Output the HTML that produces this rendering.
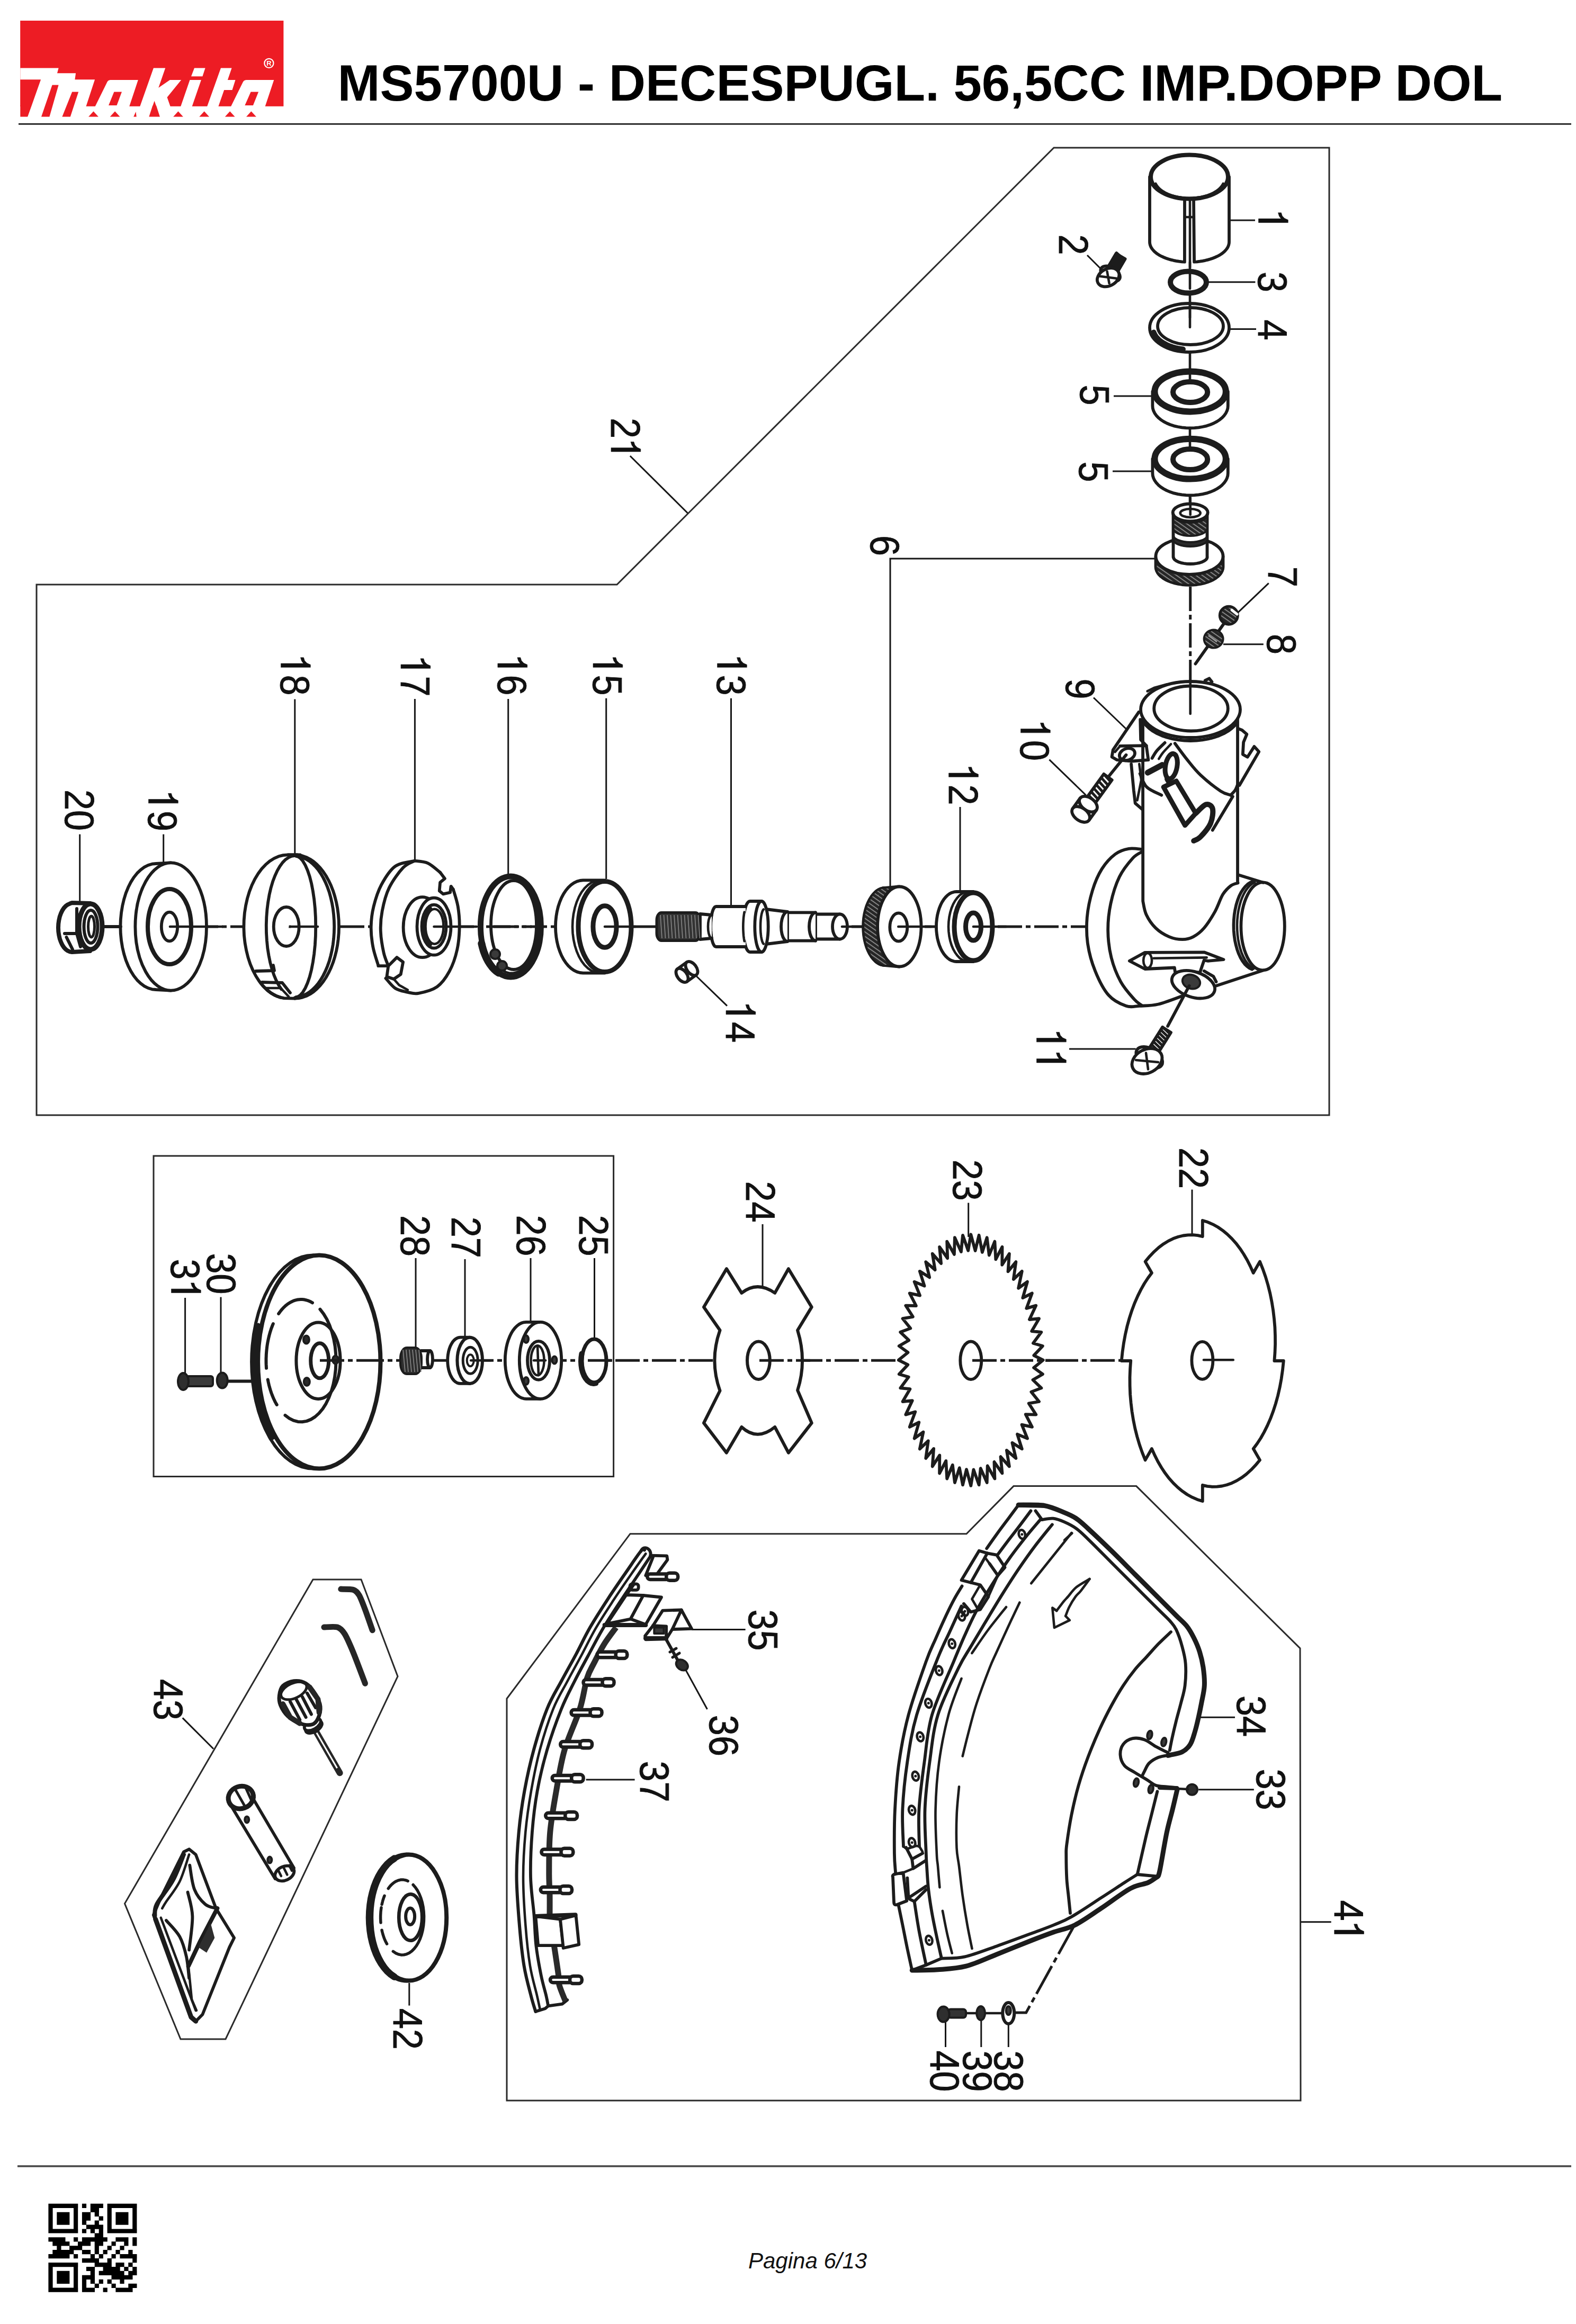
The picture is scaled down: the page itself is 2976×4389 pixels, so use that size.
<!DOCTYPE html>
<html><head><meta charset="utf-8"><title>MS5700U</title>
<style>
html,body{margin:0;padding:0;background:#fff}
body{width:2976px;height:4389px;overflow:hidden;font-family:"Liberation Sans",sans-serif}
svg{display:block}
.p{fill:none;stroke:#1c1c1c;stroke-width:5.8;stroke-linecap:round;stroke-linejoin:round}
.pf{fill:#fff;stroke:#1c1c1c;stroke-width:5.8;stroke-linecap:round;stroke-linejoin:round}
.k{fill:none;stroke:#1c1c1c;stroke-width:8;stroke-linecap:round;stroke-linejoin:round}
.kf{fill:#fff;stroke:#1c1c1c;stroke-width:8;stroke-linecap:round;stroke-linejoin:round}
.m{fill:none;stroke:#1c1c1c;stroke-width:4.6;stroke-linecap:round;stroke-linejoin:round}
.t{fill:none;stroke:#161616;stroke-width:3}
.f{fill:none;stroke:#2a2a2a;stroke-width:3}
.ax{fill:none;stroke:#1c1c1c;stroke-width:5;stroke-dasharray:46 7 9 7}
.d{fill:#1c1c1c;stroke:none}
.h{fill:#3a3a3a;stroke:#1c1c1c;stroke-width:4;stroke-linejoin:round}
.n{font-family:"Liberation Sans",sans-serif;font-size:78px;fill:#111;text-anchor:middle;stroke:#111;stroke-width:0.9px}
</style></head><body>
<svg width="2976" height="4389" viewBox="0 0 2976 4389">
<defs>
<pattern id="hk" width="7" height="7" patternUnits="userSpaceOnUse" patternTransform="rotate(35)"><rect width="7" height="7" fill="#262626"/><rect width="7" height="1.6" fill="#9a9a9a"/></pattern>
<pattern id="hk2" width="6" height="6" patternUnits="userSpaceOnUse"><rect width="6" height="6" fill="#2a2a2a"/><rect width="1.5" height="6" fill="#8a8a8a"/></pattern>
</defs>
<rect x="0" y="0" width="2976" height="4389" fill="#fff"/>
<!-- p_header -->
<rect x="38.2" y="39" width="497.2" height="161.8" fill="#ed1c24"/>
<polygon fill="#ed1c24" points="38.3,199.1 60.4,199.1 52.3,220.5 38.3,220.5"/>
<polygon fill="#fff" points="38.3,128.5 110.6,128.5 108,138.3 143.1,138.3 141.4,150.3 179.1,150.3 156.1,220.5 52.3,220.5 77.1,150.3 38.3,150.3"/>
<polygon fill="#ed1c24" points="98.6,160.5 110.6,160.5 93.4,220.5 78,220.5"/>
<polygon fill="#ed1c24" points="136.2,173.4 148.2,173.4 132.8,220.5 117.4,220.5"/>
<path fill="#fff" d="M208.5 151.1 L260.8 151.1 L237.7 220.5 L170 220.5 L201.4 157.1 Q203.4 151.1 208.5 151.1Z"/>
<polygon fill="#ed1c24" points="215.4,173.4 230,173.4 220.5,199.1 205.1,199.1"/>
<polygon fill="#fff" points="289.9,128.5 312.2,128.5 299.3,165.7 320.8,151.1 342.2,151.1 315.6,183.7 328.5,220.5 301.9,220.5 291.6,190.5 281.4,220.5 257.4,220.5"/>
<polygon fill="#fff" points="367,128.5 387.6,128.5 382.4,144.3 361,144.3"/>
<polygon fill="#fff" points="358.5,151.1 379.9,151.1 355.9,220.5 334.5,220.5"/>
<polygon fill="#fff" points="417,128.5 437.6,128.5 429.9,151.1 444.5,151.1 438.5,170 423.2,170 405.6,220.5 384.2,220.5"/>
<path fill="#fff" d="M465 151.1 L517.3 151.1 L494.1 220.5 L426.5 220.5 L457.8 157.1 Q459.9 151.1 465 151.1Z"/>
<polygon fill="#ed1c24" points="473.6,173.4 488.1,173.4 477.9,199.1 462.4,199.1"/>
<polygon fill="#ed1c24" points="176.5,210.2 167.1,220.5 185.9,220.5"/>
<polygon fill="#ed1c24" points="217.1,210.2 207.7,220.5 226.5,220.5"/>
<polygon fill="#ed1c24" points="336.5,210.2 327.1,220.5 345.9,220.5"/>
<polygon fill="#ed1c24" points="385.7,210.2 376.3,220.5 395.1,220.5"/>
<polygon fill="#ed1c24" points="434.2,210.2 424.8,220.5 443.6,220.5"/>
<polygon fill="#ed1c24" points="474.4,210.2 465,220.5 483.9,220.5"/>
<polygon fill="#ed1c24" points="256.5,211.1 252.2,220.5 257.7,220.5"/>
<polygon fill="#ed1c24" points="288.2,199.6 295.1,199.6 301.9,220.5 281.4,220.5"/>
<circle cx="507.9" cy="119.4" r="8.6" fill="none" stroke="#fff" stroke-width="2.2"/>
<text x="507.9" y="124.2" font-size="13" font-weight="bold" fill="#fff" text-anchor="middle" font-family="Liberation Sans">R</text>
<rect x="35" y="232.8" width="2932" height="2.8" fill="#1a1a1a"/>
<text x="637.5" y="190" font-family="Liberation Sans" font-weight="bold" font-size="96" fill="#000">MS5700U - DECESPUGL. 56,5CC IMP.DOPP DOL</text>
<rect x="33" y="4089.2" width="2934" height="3.6" fill="#4a4a4a"/>
<text x="1413" y="4283.5" font-family="Liberation Sans" font-style="italic" font-size="42" fill="#111">Pagina 6/13</text>
<path fill="#000" d="M91.4 4161.8h55.9v8.2h-55.9zM154.9 4161.8h8.2v8.2h-8.2zM170.8 4161.8h24.1v8.2h-24.1zM202.6 4161.8h55.9v8.2h-55.9zM91.4 4169.7h8.2v8.2h-8.2zM139 4169.7h8.2v8.2h-8.2zM170.8 4169.7h16.2v8.2h-16.2zM202.6 4169.7h8.2v8.2h-8.2zM250.2 4169.7h8.2v8.2h-8.2zM91.4 4177.7h8.2v8.2h-8.2zM107.3 4177.7h24.1v8.2h-24.1zM139 4177.7h8.2v8.2h-8.2zM154.9 4177.7h16.2v8.2h-16.2zM178.7 4177.7h8.2v8.2h-8.2zM202.6 4177.7h8.2v8.2h-8.2zM218.4 4177.7h24.1v8.2h-24.1zM250.2 4177.7h8.2v8.2h-8.2zM91.4 4185.6h8.2v8.2h-8.2zM107.3 4185.6h24.1v8.2h-24.1zM139 4185.6h8.2v8.2h-8.2zM154.9 4185.6h16.2v8.2h-16.2zM186.7 4185.6h8.2v8.2h-8.2zM202.6 4185.6h8.2v8.2h-8.2zM218.4 4185.6h24.1v8.2h-24.1zM250.2 4185.6h8.2v8.2h-8.2zM91.4 4193.6h8.2v8.2h-8.2zM107.3 4193.6h24.1v8.2h-24.1zM139 4193.6h8.2v8.2h-8.2zM154.9 4193.6h8.2v8.2h-8.2zM178.7 4193.6h8.2v8.2h-8.2zM202.6 4193.6h8.2v8.2h-8.2zM218.4 4193.6h24.1v8.2h-24.1zM250.2 4193.6h8.2v8.2h-8.2zM91.4 4201.5h8.2v8.2h-8.2zM139 4201.5h8.2v8.2h-8.2zM162.9 4201.5h32.1v8.2h-32.1zM202.6 4201.5h8.2v8.2h-8.2zM250.2 4201.5h8.2v8.2h-8.2zM91.4 4209.4h55.9v8.2h-55.9zM154.9 4209.4h8.2v8.2h-8.2zM170.8 4209.4h8.2v8.2h-8.2zM186.7 4209.4h8.2v8.2h-8.2zM202.6 4209.4h55.9v8.2h-55.9zM178.7 4217.4h16.2v8.2h-16.2zM91.4 4225.3h32.1v8.2h-32.1zM139 4225.3h8.2v8.2h-8.2zM154.9 4225.3h47.9v8.2h-47.9zM218.4 4225.3h24.1v8.2h-24.1zM250.2 4225.3h8.2v8.2h-8.2zM99.3 4233.3h32.1v8.2h-32.1zM147 4233.3h24.1v8.2h-24.1zM178.7 4233.3h16.2v8.2h-16.2zM210.5 4233.3h8.2v8.2h-8.2zM234.3 4233.3h8.2v8.2h-8.2zM250.2 4233.3h8.2v8.2h-8.2zM107.3 4241.2h8.2v8.2h-8.2zM131.1 4241.2h24.1v8.2h-24.1zM178.7 4241.2h8.2v8.2h-8.2zM202.6 4241.2h8.2v8.2h-8.2zM226.4 4241.2h8.2v8.2h-8.2zM99.3 4249.1h40v8.2h-40zM154.9 4249.1h16.2v8.2h-16.2zM178.7 4249.1h8.2v8.2h-8.2zM194.6 4249.1h8.2v8.2h-8.2zM218.4 4249.1h8.2v8.2h-8.2zM242.3 4249.1h8.2v8.2h-8.2zM91.4 4257.1h40v8.2h-40zM139 4257.1h8.2v8.2h-8.2zM170.8 4257.1h8.2v8.2h-8.2zM186.7 4257.1h8.2v8.2h-8.2zM210.5 4257.1h8.2v8.2h-8.2zM226.4 4257.1h32.1v8.2h-32.1zM154.9 4265h32.1v8.2h-32.1zM202.6 4265h8.2v8.2h-8.2zM250.2 4265h8.2v8.2h-8.2zM91.4 4273h55.9v8.2h-55.9zM178.7 4273h32.1v8.2h-32.1zM218.4 4273h16.2v8.2h-16.2zM242.3 4273h8.2v8.2h-8.2zM91.4 4280.9h8.2v8.2h-8.2zM139 4280.9h8.2v8.2h-8.2zM162.9 4280.9h16.2v8.2h-16.2zM194.6 4280.9h32.1v8.2h-32.1zM234.3 4280.9h8.2v8.2h-8.2zM250.2 4280.9h8.2v8.2h-8.2zM91.4 4288.8h8.2v8.2h-8.2zM107.3 4288.8h24.1v8.2h-24.1zM139 4288.8h8.2v8.2h-8.2zM170.8 4288.8h8.2v8.2h-8.2zM186.7 4288.8h47.9v8.2h-47.9zM242.3 4288.8h16.2v8.2h-16.2zM91.4 4296.8h8.2v8.2h-8.2zM107.3 4296.8h24.1v8.2h-24.1zM139 4296.8h8.2v8.2h-8.2zM154.9 4296.8h24.1v8.2h-24.1zM210.5 4296.8h40v8.2h-40zM91.4 4304.7h8.2v8.2h-8.2zM107.3 4304.7h24.1v8.2h-24.1zM139 4304.7h8.2v8.2h-8.2zM154.9 4304.7h8.2v8.2h-8.2zM170.8 4304.7h8.2v8.2h-8.2zM186.7 4304.7h8.2v8.2h-8.2zM202.6 4304.7h8.2v8.2h-8.2zM226.4 4304.7h8.2v8.2h-8.2zM91.4 4312.7h8.2v8.2h-8.2zM139 4312.7h8.2v8.2h-8.2zM154.9 4312.7h8.2v8.2h-8.2zM178.7 4312.7h8.2v8.2h-8.2zM210.5 4312.7h8.2v8.2h-8.2zM242.3 4312.7h16.2v8.2h-16.2zM91.4 4320.6h55.9v8.2h-55.9zM154.9 4320.6h24.1v8.2h-24.1zM194.6 4320.6h8.2v8.2h-8.2zM218.4 4320.6h32.1v8.2h-32.1z"/>
<!-- p_frames -->
<path class="f" d="M69 1104L1165 1104L1990 279L2510 279L2510 2106L69 2106Z"/>
<path class="f" d="M290 2183L1158.6 2183L1158.6 2788.5L290 2788.5Z"/>
<path class="f" d="M957 3208L1190 2896.7L1825 2896.7L1914 2806.6L2145.7 2806.6L2455 3113L2456 3967L957 3967Z"/>
<path class="f" d="M591 2983L682 2983L751 3166L426 3851L341 3851L235.5 3595Z"/>
<!-- p_labels -->
<g transform="translate(2403.5 415) rotate(90) scale(0.9 1)"><polygon points="6,27 6,-28.8 0.4,-28.8 -3,-22.1 -8,-17.8 -14.7,-15.9 -14.7,-10 -7.6,-12 -2.2,-15.5 -2.2,27" fill="#111" stroke="#111" stroke-width="0.6"/></g>
<g transform="translate(2403.5 532.5) rotate(90) scale(0.9 1)"><text class="n" style="text-anchor:start" x="-21.7" y="27">3</text></g>
<g transform="translate(2403.5 623) rotate(90) scale(0.9 1)"><text class="n" style="text-anchor:start" x="-21.7" y="27">4</text></g>
<g transform="translate(2027 462) rotate(90) scale(0.9 1)"><text class="n" style="text-anchor:start" x="-21.7" y="27">2</text></g>
<g transform="translate(2067.5 746) rotate(90) scale(0.9 1)"><text class="n" style="text-anchor:start" x="-21.7" y="27">5</text></g>
<g transform="translate(2065.5 891) rotate(90) scale(0.9 1)"><text class="n" style="text-anchor:start" x="-21.7" y="27">5</text></g>
<g transform="translate(1671.5 1030.5) rotate(90) scale(0.9 1)"><text class="n" style="text-anchor:start" x="-21.7" y="27">6</text></g>
<g transform="translate(2422.3 1089.4) rotate(90) scale(0.9 1)"><text class="n" style="text-anchor:start" x="-21.7" y="27">7</text></g>
<g transform="translate(2420.5 1216.5) rotate(90) scale(0.9 1)"><text class="n" style="text-anchor:start" x="-21.7" y="27">8</text></g>
<g transform="translate(2040.5 1301) rotate(90) scale(0.9 1)"><text class="n" style="text-anchor:start" x="-21.7" y="27">9</text></g>
<g transform="translate(1954.5 1398) rotate(90) scale(0.9 1)"><polygon points="-15.7,27 -15.7,-28.8 -21.3,-28.8 -24.6,-22.1 -29.7,-17.8 -36.3,-15.9 -36.3,-10 -29.3,-12 -23.9,-15.5 -23.9,27" fill="#111" stroke="#111" stroke-width="0.6"/><text class="n" style="text-anchor:start" x="0" y="27">0</text></g>
<g transform="translate(1984.5 1982) rotate(90) scale(0.9 1)"><polygon points="-15.7,27 -15.7,-28.8 -21.3,-28.8 -24.6,-22.1 -29.7,-17.8 -36.3,-15.9 -36.3,-10 -29.3,-12 -23.9,-15.5 -23.9,27" fill="#111" stroke="#111" stroke-width="0.6"/><polygon points="27.7,27 27.7,-28.8 22.1,-28.8 18.7,-22.1 13.6,-17.8 7,-15.9 7,-10 14,-12 19.5,-15.5 19.5,27" fill="#111" stroke="#111" stroke-width="0.6"/></g>
<g transform="translate(1818.6 1481.5) rotate(90) scale(0.9 1)"><polygon points="-15.7,27 -15.7,-28.8 -21.3,-28.8 -24.6,-22.1 -29.7,-17.8 -36.3,-15.9 -36.3,-10 -29.3,-12 -23.9,-15.5 -23.9,27" fill="#111" stroke="#111" stroke-width="0.6"/><text class="n" style="text-anchor:start" x="0" y="27">2</text></g>
<g transform="translate(1381.5 1274.5) rotate(90) scale(0.9 1)"><polygon points="-15.7,27 -15.7,-28.8 -21.3,-28.8 -24.6,-22.1 -29.7,-17.8 -36.3,-15.9 -36.3,-10 -29.3,-12 -23.9,-15.5 -23.9,27" fill="#111" stroke="#111" stroke-width="0.6"/><text class="n" style="text-anchor:start" x="0" y="27">3</text></g>
<g transform="translate(1398 1930) rotate(90) scale(0.9 1)"><polygon points="-15.7,27 -15.7,-28.8 -21.3,-28.8 -24.6,-22.1 -29.7,-17.8 -36.3,-15.9 -36.3,-10 -29.3,-12 -23.9,-15.5 -23.9,27" fill="#111" stroke="#111" stroke-width="0.6"/><text class="n" style="text-anchor:start" x="0" y="27">4</text></g>
<g transform="translate(1147 1274.5) rotate(90) scale(0.9 1)"><polygon points="-15.7,27 -15.7,-28.8 -21.3,-28.8 -24.6,-22.1 -29.7,-17.8 -36.3,-15.9 -36.3,-10 -29.3,-12 -23.9,-15.5 -23.9,27" fill="#111" stroke="#111" stroke-width="0.6"/><text class="n" style="text-anchor:start" x="0" y="27">5</text></g>
<g transform="translate(966.9 1274.5) rotate(90) scale(0.9 1)"><polygon points="-15.7,27 -15.7,-28.8 -21.3,-28.8 -24.6,-22.1 -29.7,-17.8 -36.3,-15.9 -36.3,-10 -29.3,-12 -23.9,-15.5 -23.9,27" fill="#111" stroke="#111" stroke-width="0.6"/><text class="n" style="text-anchor:start" x="0" y="27">6</text></g>
<g transform="translate(784 1276.5) rotate(90) scale(0.9 1)"><polygon points="-15.7,27 -15.7,-28.8 -21.3,-28.8 -24.6,-22.1 -29.7,-17.8 -36.3,-15.9 -36.3,-10 -29.3,-12 -23.9,-15.5 -23.9,27" fill="#111" stroke="#111" stroke-width="0.6"/><text class="n" style="text-anchor:start" x="0" y="27">7</text></g>
<g transform="translate(557.5 1274.5) rotate(90) scale(0.9 1)"><polygon points="-15.7,27 -15.7,-28.8 -21.3,-28.8 -24.6,-22.1 -29.7,-17.8 -36.3,-15.9 -36.3,-10 -29.3,-12 -23.9,-15.5 -23.9,27" fill="#111" stroke="#111" stroke-width="0.6"/><text class="n" style="text-anchor:start" x="0" y="27">8</text></g>
<g transform="translate(307.5 1531) rotate(90) scale(0.9 1)"><polygon points="-15.7,27 -15.7,-28.8 -21.3,-28.8 -24.6,-22.1 -29.7,-17.8 -36.3,-15.9 -36.3,-10 -29.3,-12 -23.9,-15.5 -23.9,27" fill="#111" stroke="#111" stroke-width="0.6"/><text class="n" style="text-anchor:start" x="0" y="27">9</text></g>
<g transform="translate(150.5 1530.1) rotate(90) scale(0.9 1)"><text class="n" style="text-anchor:start" x="-43.4" y="27">2</text><text class="n" style="text-anchor:start" x="0" y="27">0</text></g>
<g transform="translate(1181 828.1) rotate(90) scale(0.9 1)"><text class="n" style="text-anchor:start" x="-43.4" y="27">2</text><polygon points="27.7,27 27.7,-28.8 22.1,-28.8 18.7,-22.1 13.6,-17.8 7,-15.9 7,-10 14,-12 19.5,-15.5 19.5,27" fill="#111" stroke="#111" stroke-width="0.6"/></g>
<g transform="translate(2254.5 2206) rotate(90) scale(0.9 1)"><text class="n" style="text-anchor:start" x="-43.4" y="27">2</text><text class="n" style="text-anchor:start" x="0" y="27">2</text></g>
<g transform="translate(1827.4 2228.7) rotate(90) scale(0.9 1)"><text class="n" style="text-anchor:start" x="-43.4" y="27">2</text><text class="n" style="text-anchor:start" x="0" y="27">3</text></g>
<g transform="translate(1436 2269.5) rotate(90) scale(0.9 1)"><text class="n" style="text-anchor:start" x="-43.4" y="27">2</text><text class="n" style="text-anchor:start" x="0" y="27">4</text></g>
<g transform="translate(1121 2333.5) rotate(90) scale(0.9 1)"><text class="n" style="text-anchor:start" x="-43.4" y="27">2</text><text class="n" style="text-anchor:start" x="0" y="27">5</text></g>
<g transform="translate(1003.5 2333.5) rotate(90) scale(0.9 1)"><text class="n" style="text-anchor:start" x="-43.4" y="27">2</text><text class="n" style="text-anchor:start" x="0" y="27">6</text></g>
<g transform="translate(879.9 2336.7) rotate(90) scale(0.9 1)"><text class="n" style="text-anchor:start" x="-43.4" y="27">2</text><text class="n" style="text-anchor:start" x="0" y="27">7</text></g>
<g transform="translate(783.6 2334) rotate(90) scale(0.9 1)"><text class="n" style="text-anchor:start" x="-43.4" y="27">2</text><text class="n" style="text-anchor:start" x="0" y="27">8</text></g>
<g transform="translate(418.5 2405.5) rotate(90) scale(0.9 1)"><text class="n" style="text-anchor:start" x="-43.4" y="27">3</text><text class="n" style="text-anchor:start" x="0" y="27">0</text></g>
<g transform="translate(350.5 2416.6) rotate(90) scale(0.9 1)"><text class="n" style="text-anchor:start" x="-43.4" y="27">3</text><polygon points="27.7,27 27.7,-28.8 22.1,-28.8 18.7,-22.1 13.6,-17.8 7,-15.9 7,-10 14,-12 19.5,-15.5 19.5,27" fill="#111" stroke="#111" stroke-width="0.6"/></g>
<g transform="translate(2400.3 3379.5) rotate(90) scale(0.9 1)"><text class="n" style="text-anchor:start" x="-43.4" y="27">3</text><text class="n" style="text-anchor:start" x="0" y="27">3</text></g>
<g transform="translate(2362.9 3241) rotate(90) scale(0.9 1)"><text class="n" style="text-anchor:start" x="-43.4" y="27">3</text><text class="n" style="text-anchor:start" x="0" y="27">4</text></g>
<g transform="translate(1441.1 3078.5) rotate(90) scale(0.9 1)"><text class="n" style="text-anchor:start" x="-43.4" y="27">3</text><text class="n" style="text-anchor:start" x="0" y="27">5</text></g>
<g transform="translate(1367.5 3277.9) rotate(90) scale(0.9 1)"><text class="n" style="text-anchor:start" x="-43.4" y="27">3</text><text class="n" style="text-anchor:start" x="0" y="27">6</text></g>
<g transform="translate(1236.5 3364.5) rotate(90) scale(0.9 1)"><text class="n" style="text-anchor:start" x="-43.4" y="27">3</text><text class="n" style="text-anchor:start" x="0" y="27">7</text></g>
<g transform="translate(1905 3911.5) rotate(90) scale(0.9 1)"><text class="n" style="text-anchor:start" x="-43.4" y="27">3</text><text class="n" style="text-anchor:start" x="0" y="27">8</text></g>
<g transform="translate(1846.5 3911.5) rotate(90) scale(0.9 1)"><text class="n" style="text-anchor:start" x="-43.4" y="27">3</text><text class="n" style="text-anchor:start" x="0" y="27">9</text></g>
<g transform="translate(1784.5 3911.5) rotate(90) scale(0.9 1)"><text class="n" style="text-anchor:start" x="-43.4" y="27">4</text><text class="n" style="text-anchor:start" x="0" y="27">0</text></g>
<g transform="translate(2546.7 3627.5) rotate(90) scale(0.9 1)"><text class="n" style="text-anchor:start" x="-43.4" y="27">4</text><polygon points="27.7,27 27.7,-28.8 22.1,-28.8 18.7,-22.1 13.6,-17.8 7,-15.9 7,-10 14,-12 19.5,-15.5 19.5,27" fill="#111" stroke="#111" stroke-width="0.6"/></g>
<g transform="translate(770.1 3831.7) rotate(90) scale(0.9 1)"><text class="n" style="text-anchor:start" x="-43.4" y="27">4</text><text class="n" style="text-anchor:start" x="0" y="27">2</text></g>
<g transform="translate(318.3 3210) rotate(90) scale(0.9 1)"><text class="n" style="text-anchor:start" x="-43.4" y="27">4</text><text class="n" style="text-anchor:start" x="0" y="27">3</text></g>
<path class="t" d="M2321 416L2370 416"/>
<path class="t" d="M2281.6 532.7L2370.4 532.7"/>
<path class="t" d="M2323 621.5L2372 621.5"/>
<path class="t" d="M2053 482L2078 507"/>
<path class="t" d="M2103 747.9L2176 747.9"/>
<path class="t" d="M2101 890L2176 890"/>
<path class="t" d="M2337.3 1157.2L2395.7 1101.3"/>
<path class="t" d="M2310 1216.7L2385.8 1216.7"/>
<path class="t" d="M2065 1317.5L2128 1378"/>
<path class="t" d="M1981.4 1434.7L2050.5 1501.7"/>
<path class="t" d="M2019 1981L2144.7 1981"/>
<path class="t" d="M1813 1524L1813 1684"/>
<path class="t" d="M1380.5 1318.7L1380.5 1711"/>
<path class="t" d="M1308.8 1837.5L1373 1899.7"/>
<path class="t" d="M1144.7 1318.7L1144.7 1660"/>
<path class="t" d="M959.7 1320L959.7 1653.7"/>
<path class="t" d="M783.4 1320L783.4 1625"/>
<path class="t" d="M556.8 1320.5L556.8 1613.7"/>
<path class="t" d="M308.7 1575.6L308.7 1631.5"/>
<path class="t" d="M150.7 1575.6L150.7 1702"/>
<path class="t" d="M1189.8 861L1298.5 969"/>
<path class="t" d="M2251 2246.6L2251 2331"/>
<path class="t" d="M1828.7 2271.6L1828.7 2336"/>
<path class="t" d="M1440 2312L1440 2430"/>
<path class="t" d="M1122.5 2376L1122.5 2530"/>
<path class="t" d="M1002 2376L1002 2498.5"/>
<path class="t" d="M878 2378L878 2527"/>
<path class="t" d="M785 2376L785 2551"/>
<path class="t" d="M417 2449.6L417 2597"/>
<path class="t" d="M349.6 2451L349.6 2597"/>
<path class="t" d="M2263.2 3379.8L2367.8 3379.8"/>
<path class="t" d="M2265.4 3243.3L2332 3243.3"/>
<path class="t" d="M1306 3077.4L1407.6 3077.4"/>
<path class="t" d="M1294.7 3153.5L1335.5 3228"/>
<path class="t" d="M1106.6 3361L1198.6 3361"/>
<path class="t" d="M1904.3 3822L1904.3 3866"/>
<path class="t" d="M1852.8 3816L1852.8 3866"/>
<path class="t" d="M1785.5 3819L1785.5 3866"/>
<path class="t" d="M2456.6 3629.7L2513.7 3629.7"/>
<path class="t" d="M772.8 3745L772.8 3787.6"/>
<path class="t" d="M344.7 3244.4L403 3302.8"/>
<path class="t" d="M1681 1675L1681 1055L2182.7 1055"/>
<!-- p_top -->
<path class="p" d="M2171 334L2171 457L2171 457L2171.2 459.7L2171.8 462.5L2172.8 465.2L2174.1 467.9L2175.9 470.5L2178 473L2180.4 475.5L2183.2 477.8L2186.4 480.1L2189.8 482.2L2193.6 484.2L2197.6 486L2201.9 487.7L2206.4 489.3L2211.1 490.6L2216 491.8L2221 492.8L2226.2 493.7L2231.5 494.3L2236.9 494.7L2237 378"/>
<path class="p" d="M2321 334L2321 457L2321 457L2320.8 459.7L2320.2 462.5L2319.2 465.2L2317.9 467.9L2316.1 470.5L2314 473L2311.6 475.5L2308.8 477.8L2305.6 480.1L2302.2 482.2L2298.4 484.2L2294.4 486L2290.1 487.7L2285.6 489.3L2280.9 490.6L2276 491.8L2271 492.8L2265.8 493.7L2260.5 494.3L2255.1 494.7L2254 378"/>
<ellipse class="k" cx="2246" cy="334" rx="73" ry="41.5"/>
<path class="m" d="M2309.8 346.6L2307.5 350.4L2304.5 354.1L2300.9 357.6L2296.6 360.8L2291.6 363.7L2286.2 366.4L2280.2 368.6L2273.9 370.5L2267.2 372L2260.3 373.1L2253.2 373.8L2246 374L2238.8 373.8L2231.7 373.1L2224.8 372L2218.1 370.5L2211.8 368.6L2205.8 366.4L2200.4 363.7L2195.4 360.8L2191.1 357.6L2187.5 354.1L2184.5 350.4L2182.2 346.6"/>
<path class="m" d="M2237 410L2254 410"/>
<path class="m" d="M2247 376L2247 505"/>
<path class="m" d="M2247 495L2247 512"/>
<ellipse class="p" cx="2244" cy="533" rx="34" ry="20.5" style="stroke-width:10"/>
<path class="m" d="M2247 512L2247 545"/>
<path class="m" d="M2247 556L2247 600"/>
<ellipse class="p" cx="2246" cy="619" rx="75" ry="46"/>
<ellipse class="p" cx="2248" cy="616" rx="62" ry="35"/>
<path class="p" d="M2234 659.4L2229 658.7L2224.1 657.9L2219.3 656.8L2214.7 655.5L2210.2 654.1L2205.9 652.4L2201.9 650.5L2198.1 648.5L2194.5 646.3L2191.3 644L2188.3 641.5L2185.7 638.9L2183.3 636.2L2181.4 633.4L2179.8 630.5L2178.5 627.5" style="stroke-width:10"/>
<path class="m" d="M2247 575L2247 618"/>
<path class="m" d="M2247 664L2247 720"/>
<path class="pf" d="M2176.4 739.5L2176.4 766.5L2176.8 771.2L2178.2 775.8L2180.4 780.3L2183.5 784.7L2187.3 788.8L2191.9 792.6L2197.3 796.1L2203.2 799.3L2209.7 802L2216.7 804.3L2224.1 806L2231.8 807.3L2239.6 808.1L2247.6 808.4L2255.6 808.1L2263.4 807.3L2271.1 806L2278.5 804.3L2285.5 802L2292 799.3L2297.9 796.1L2303.3 792.6L2307.9 788.8L2311.7 784.7L2314.8 780.3L2317 775.8L2318.4 771.2L2318.8 766.5L2318.8 739.5"/>
<ellipse class="pf" cx="2247.6" cy="739.5" rx="67.2" ry="37.9" style="stroke-width:12"/>
<ellipse class="p" cx="2247.6" cy="740.5" rx="32.6" ry="19.5" style="stroke-width:10"/>
<path class="m" d="M2247 700L2247 719"/>
<path class="m" d="M2247 808L2247 868"/>
<path class="pf" d="M2176.4 866.6L2176.4 893.6L2176.8 898.3L2178.2 902.9L2180.4 907.4L2183.5 911.8L2187.3 915.9L2191.9 919.7L2197.3 923.2L2203.2 926.4L2209.7 929.1L2216.7 931.4L2224.1 933.1L2231.8 934.4L2239.6 935.2L2247.6 935.5L2255.6 935.2L2263.4 934.4L2271.1 933.1L2278.5 931.4L2285.5 929.1L2292 926.4L2297.9 923.2L2303.3 919.7L2307.9 915.9L2311.7 911.8L2314.8 907.4L2317 902.9L2318.4 898.3L2318.8 893.6L2318.8 866.6"/>
<ellipse class="pf" cx="2247.6" cy="866.6" rx="67.2" ry="37.9" style="stroke-width:12"/>
<ellipse class="p" cx="2247.6" cy="867.6" rx="32.6" ry="19.5" style="stroke-width:10"/>
<path class="m" d="M2247 828L2247 846"/>
<path class="m" d="M2247 936L2247 970"/>
<path class="pf" d="M2182.5 1050.6L2182.5 1070.6L2182.9 1074.4L2184.1 1078.2L2186.1 1081.9L2188.8 1085.5L2192.2 1088.8L2196.4 1092L2201.1 1094.9L2206.4 1097.4L2212.2 1099.6L2218.4 1101.5L2225 1103L2231.9 1104L2238.9 1104.7L2246 1104.9L2253.1 1104.7L2260.1 1104L2267 1103L2273.6 1101.5L2279.8 1099.6L2285.6 1097.4L2290.9 1094.9L2295.6 1092L2299.8 1088.8L2303.2 1085.5L2305.9 1081.9L2307.9 1078.2L2309.1 1074.4L2309.5 1070.6L2309.5 1050.6"/>
<path d="M2182.5 1050.6A63.5 34.3 0 0 0 2309.5 1050.6L2309.5 1070.6A63.5 34.3 0 0 1 2182.5 1070.6Z" fill="url(#hk)" stroke="#1c1c1c" stroke-width="4" stroke-linejoin="round"/>
<ellipse class="pf" cx="2246" cy="1050.6" rx="63.5" ry="34.3"/>
<path class="pf" d="M2215.5 968L2215.5 1052L2215.7 1052L2216.3 1054.5L2218.1 1057L2221.1 1059.2L2225.1 1061.2L2229.9 1062.8L2235.5 1064L2241.5 1064.8L2247.7 1065L2253.9 1064.8L2259.9 1064L2265.5 1062.8L2270.3 1061.2L2274.3 1059.2L2277.3 1057L2279.1 1054.5L2279.7 1052L2279.5 1052L2279.5 968"/>
<path d="M2215.7 1011A32 13 0 0 0 2279.7 1011L2279.7 1019A32 13 0 0 1 2215.7 1019Z" fill="#2a2a2a" stroke="#1c1c1c" stroke-width="4" stroke-linejoin="round"/>
<path d="M2215.7 973A32 14 0 0 0 2279.7 973L2279.7 998A32 14 0 0 1 2215.7 998Z" fill="url(#hk)" stroke="#1c1c1c" stroke-width="4" stroke-linejoin="round"/>
<ellipse class="pf" cx="2247.7" cy="968" rx="33" ry="16.5"/>
<ellipse class="m" cx="2247.7" cy="969" rx="19" ry="8"/>
<path class="m" d="M2247.7 940L2247.7 972"/>
<path class="ax" d="M2247.7 1108V1350"/>
<path class="p" d="M2318 1168L2257.4 1253.6"/>
<circle cx="2320.3" cy="1162.2" r="17" fill="url(#hk)" stroke="#1c1c1c" stroke-width="5"/>
<path d="M2326 1152l10 8" stroke="#fff" stroke-width="5" fill="none" stroke-linecap="round"/>
<ellipse cx="2291.6" cy="1206.6" rx="18" ry="17" fill="url(#hk)" stroke="#1c1c1c" stroke-width="4"/>
<path d="M2282 1200l16 12" stroke="#999" stroke-width="3" fill="none"/>
<path class="pf" d="M2107.1 518.9L2124.6 489.1L2107.4 478.9L2089.8 508.8Z"/>
<path class="m" d="M2108.2 517.1L2093 503.5M2110.4 513.3L2095.1 499.7M2112.6 509.6L2097.3 496M2114.7 505.9L2099.5 492.3M2116.9 502.1L2101.7 488.5M2119.1 498.4L2103.9 484.8M2121.3 494.7L2106.1 481.1M2123.5 490.9L2108.3 477.3" style="stroke-width:5"/>
<ellipse class="pf" cx="2096.7" cy="516.9" rx="12.1" ry="20" transform="rotate(-59.5 2096.7 516.9)"/>
<ellipse class="pf" cx="2092.6" cy="523.8" rx="22" ry="16" transform="rotate(-29.5 2092.6 523.8)"/>
<path class="m" d="M2077.2 521.8L2108 525.8"/>
<path class="m" d="M2090.6 512.6L2094.6 535"/>
<path class="p" d="M2158.2 1604.1C2153.7 1603.9 2140.2 1601.4 2131.5 1602.8C2122.9 1604.3 2114.6 1606.6 2106.1 1613C2097.7 1619.3 2088 1629.5 2080.8 1640.9C2073.6 1652.3 2067.6 1666.3 2063 1681.5C2058.3 1696.8 2054.3 1715.4 2052.8 1732.3C2051.4 1749.2 2051.6 1766.1 2054.1 1783C2056.6 1800 2061.5 1817.7 2068.1 1833.8C2074.6 1849.9 2083.7 1868.5 2093.5 1879.5C2103.2 1890.5 2116.7 1896.4 2126.4 1899.8C2136.2 1903.2 2141.7 1900.3 2151.8 1899.8C2162 1899.2 2173.8 1899.7 2187.4 1896.5C2200.9 1893.3 2225.4 1883.4 2233 1880.8"/>
<path class="p" d="M2156.9 1608.4C2153.9 1610.5 2146.3 1612.7 2139.1 1620.6C2131.9 1628.6 2120.7 1641.8 2113.8 1656.1C2106.8 1670.5 2100.9 1690 2097.3 1706.9C2093.7 1723.8 2092 1740.7 2092.2 1757.7C2092.4 1774.6 2094.5 1792.4 2098.5 1808.4C2102.5 1824.5 2109.1 1841 2116.3 1854.1C2123.5 1867.2 2135.1 1879.7 2141.7 1887.1C2148.2 1894.5 2153.3 1896.6 2155.6 1898.5"/>
<path class="p" d="M2338.4 1652.3L2385.3 1666.8"/>
<path class="p" d="M2385.3 1832.5L2296.5 1861.7"/>
<ellipse class="p" cx="2384.6" cy="1749.3" rx="41.2" ry="83"/>
<path class="p" d="M2364.2 1830.7L2359.4 1828.4L2354.8 1825L2350.3 1820.6L2346.2 1815.1L2342.5 1808.7L2339.1 1801.4L2336.2 1793.4L2333.8 1784.8L2331.8 1775.7L2330.5 1766.2L2329.7 1756.4L2329.5 1746.5L2329.9 1736.7L2330.8 1727L2332.4 1717.6L2334.4 1708.6L2337 1700.1L2340 1692.3L2343.5 1685.3L2347.4 1679.2L2351.6 1674L2356.1 1669.8L2360.8 1666.8L2365.7 1664.8"/>
<path class="m" d="M2367.1 1829.6L2362.7 1826.7L2358.4 1822.8L2354.4 1818L2350.7 1812.4L2347.3 1805.9L2344.3 1798.8L2341.8 1791L2339.6 1782.7L2338 1773.9L2336.8 1764.9L2336.2 1755.6L2336 1746.3L2336.4 1737L2337.3 1727.8L2338.7 1718.9L2340.6 1710.4L2342.9 1702.3L2345.7 1694.8L2348.9 1687.9L2352.4 1681.9L2356.3 1676.6L2360.4 1672.2L2364.8 1668.8L2369.3 1666.3"/>
<path class="pf" d="M2158 1342L2158.2 1701.8C2159.2 1706.1 2160.5 1718.7 2164.5 1727.2C2168.5 1735.7 2175.1 1745.6 2182.3 1752.6C2189.5 1759.6 2199.2 1765.5 2207.7 1769.1C2216.1 1772.7 2225.4 1774.2 2233 1774.2C2240.7 1774.2 2246.6 1772.7 2253.4 1769.1C2260.1 1765.5 2266.9 1760.4 2273.7 1752.6C2280.4 1744.8 2288 1732.7 2294 1722.1C2299.9 1711.6 2304.1 1697.4 2309.2 1689.1C2314.3 1680.9 2319.7 1676.2 2324.4 1672.6C2329.2 1669 2335.4 1668.4 2337.6 1667.6L2337 1665L2337 1342"/>
<ellipse class="pf" cx="2248" cy="1340" rx="94" ry="53"/>
<path class="p" d="M2336.3 1364.1L2331.8 1370.1L2325.9 1375.6L2318.9 1380.8L2310.9 1385.4L2301.9 1389.4L2292.1 1392.8L2281.7 1395.5L2270.7 1397.4L2259.5 1398.6L2248 1399L2236.5 1398.6L2225.3 1397.4L2214.3 1395.5L2203.9 1392.8L2194.1 1389.4L2185.1 1385.4L2177.1 1380.8L2170.1 1375.6L2164.2 1370.1L2159.7 1364.1"/>
<ellipse class="pf" cx="2249" cy="1338" rx="69.8" ry="42.5"/>
<path class="m" d="M2166.6 1305.4L2179.3 1299L2202.1 1292.7"/>
<path class="p" d="M2275.7 1285.1L2283.4 1281.3L2288.4 1287.6"/>
<path class="m" d="M2247.7 1285L2247.7 1348"/>
<path class="p" d="M2150.3 1344.8L2101.8 1416.1L2099.5 1429.5L2109.4 1435.2L2138 1437.5L2168.4 1435.2L2164.6 1408.2L2115.1 1408.9"/>
<path class="p" d="M2153.2 1359L2154.1 1397.1L2164.6 1408.2"/>
<path class="m" d="M2115.1 1408.9L2105.6 1420"/>
<ellipse class="p" cx="2128.4" cy="1424.7" rx="15" ry="11" transform="rotate(-20 2128.4 1424.7)"/>
<path class="p" d="M2136.1 1442.8L2140.8 1492.3L2143.7 1517L2157 1528.5"/>
<path class="m" d="M2151.3 1442.8L2155.1 1473.3L2147.5 1511.3"/>
<path class="p" d="M2218.7 1404C2222.5 1409 2233.5 1424.5 2241.5 1434.4C2249.6 1444.4 2256.3 1453.7 2266.9 1463.6C2277.5 1473.5 2295.5 1487.7 2305 1494.1C2314.5 1500.4 2320.8 1500.4 2324 1501.7"/>
<path class="p" d="M2324 1501.7C2325.5 1500 2330.6 1495.3 2332.9 1491.5C2335.2 1487.7 2337.1 1480.9 2338 1478.8"/>
<path class="p" d="M2327.8 1504.2L2289.7 1567.7"/>
<path class="p" d="M2152.7 1461.1C2154.8 1465.3 2158.6 1479.7 2165.4 1486.4C2172.1 1493.2 2188.6 1499.1 2193.3 1501.7"/>
<path class="p" d="M2199.6 1402.7C2197.1 1405.2 2188.4 1413.1 2184.4 1417.9C2180.4 1422.8 2177 1429.6 2175.5 1431.9"/>
<path class="m" d="M2211.1 1405.2C2208.5 1408 2199.6 1417.1 2195.8 1421.7C2192 1426.4 2189.5 1431.2 2188.2 1433.1"/>
<ellipse class="p" cx="2211.7" cy="1447.1" rx="11" ry="24" transform="rotate(10 2211.7 1447.1)" style="stroke-width:9"/>
<path class="p" d="M2194.6 1444.6L2167.3 1459.2" style="stroke-width:11"/>
<path class="p" d="M2197.1 1486.4L2221.2 1475L2258 1535.9L2237.7 1558.8Z" style="stroke-width:9"/>
<path class="p" d="M2203.5 1471.2L2208.5 1480.1" style="stroke-width:9"/>
<path class="p" d="M2258 1535.9C2261.2 1533.2 2271.8 1520.9 2277.1 1519.4C2282.3 1518 2288.3 1521.1 2289.7 1527.1C2291.2 1533 2289.7 1546.1 2285.9 1555C2282.1 1563.9 2272.2 1574.9 2266.9 1580.4C2261.6 1585.9 2256.3 1586.7 2254.2 1588" style="stroke-width:10"/>
<path class="p" d="M2339.2 1376.4L2345.5 1379L2354.4 1386.6L2348.1 1401.8L2346.8 1424.7L2355.7 1429.7L2368.4 1409.9L2377.3 1419.6L2340.5 1483"/>
<path class="p" d="M2132.8 1814.8L2162 1798.8L2273.7 1798.3L2310.5 1812.2L2281.3 1814.8L2273.7 1813.5L2266 1836.3L2219.1 1836.3L2217.8 1827.5L2162 1830Z"/>
<path class="m" d="M2178.5 1809.7L2278.7 1808.4"/>
<ellipse class="m" cx="2167.1" cy="1814" rx="8" ry="14"/>
<ellipse class="pf" cx="2253.4" cy="1859.2" rx="42" ry="24" transform="rotate(18 2253.4 1859.2)"/>
<path class="p" d="M2273.7 1833.8L2291.4 1844L2296.5 1854.1"/>
<ellipse class="h" cx="2249.5" cy="1854.1" rx="17" ry="13" transform="rotate(18 2249.5 1854.1)"/>
<path class="p" d="M2245.7 1861.7L2205.1 1937.9"/>
<path class="pf" d="M2183.3 1994.3L2211 1950L2195 1940L2167.2 1984.2Z"/>
<path class="m" d="M2185 1991.5L2171.1 1978M2188.5 1986L2174.5 1972.5M2192 1980.5L2178 1967M2195.4 1974.9L2181.5 1961.5M2198.9 1969.4L2184.9 1955.9M2202.4 1963.9L2188.4 1950.4M2205.8 1958.3L2191.9 1944.9M2209.3 1952.8L2195.3 1939.3" style="stroke-width:5"/>
<ellipse class="pf" cx="2170.3" cy="1997.2" rx="16.5" ry="27.5" transform="rotate(-57.9 2170.3 1997.2)"/>
<ellipse class="pf" cx="2166" cy="2004" rx="30" ry="22" transform="rotate(-27.9 2166 2004)"/>
<path class="m" d="M2145 2002L2187 2006"/>
<path class="m" d="M2164 1988.6L2168 2019.4"/>
<path class="p" d="M2126.5 1425.7L2093 1467"/>
<path class="pf" d="M2061.4 1525.9L2099.7 1473.1L2084.3 1461.9L2046.1 1514.8Z"/>
<path class="m" d="M2063.8 1522.6L2050.8 1508.3M2068.6 1516L2055.6 1501.7M2073.4 1509.4L2060.4 1495M2078.2 1502.8L2065.1 1488.4M2083 1496.2L2069.9 1481.8M2087.7 1489.6L2074.7 1475.2M2092.5 1483L2079.5 1468.6M2097.3 1476.4L2084.3 1462" style="stroke-width:5"/>
<path class="pf" d="M2056.4 1549.1L2070.4 1529.7L2039.6 1507.5L2025.6 1526.9"/>
<ellipse class="pf" cx="2055" cy="1518.6" rx="12" ry="19" transform="rotate(-54.1 2055 1518.6)"/>
<ellipse class="pf" cx="2041" cy="1538" rx="12" ry="19" transform="rotate(-54.1 2041 1538)"/>
<!-- p_axis -->
<path class="ax" d="M228 1750H2052"/>
<path class="pf" d="M1838 1684L1806 1684L1801.7 1684.4L1797.5 1685.7L1793.4 1687.7L1789.5 1690.5L1785.8 1694.1L1782.3 1698.4L1779.1 1703.3L1776.3 1708.8L1773.8 1714.9L1771.8 1721.4L1770.1 1728.2L1769 1735.3L1768.2 1742.6L1768 1750L1768.2 1757.4L1769 1764.7L1770.1 1771.8L1771.8 1778.6L1773.8 1785.1L1776.3 1791.2L1779.1 1796.7L1782.3 1801.6L1785.8 1805.9L1789.5 1809.5L1793.4 1812.3L1797.5 1814.3L1801.7 1815.6L1806 1816L1838 1816"/>
<ellipse class="pf" cx="1838" cy="1750" rx="36" ry="64" style="stroke-width:9"/>
<path class="m" d="M1822.4 1815L1817.3 1812.8L1812.3 1809.3L1807.8 1804.7L1803.6 1799L1799.9 1792.4L1796.8 1785L1794.3 1776.8L1792.5 1768.2L1791.4 1759.2L1791 1750L1791.4 1740.8L1792.5 1731.8L1794.3 1723.2L1796.8 1715L1799.9 1707.6L1803.6 1701L1807.8 1695.3L1812.3 1690.7L1817.3 1687.2L1822.4 1685"/>
<ellipse class="p" cx="1838" cy="1750" rx="14.5" ry="26" style="stroke-width:9"/>
<path class="m" d="M1838 1750L1900 1750"/>
<path class="pf" d="M1698.3 1674.5L1671.3 1677L1666.7 1677.5L1662.1 1678.8L1657.7 1681.1L1653.4 1684.2L1649.4 1688.2L1645.6 1692.9L1642.2 1698.4L1639.1 1704.5L1636.4 1711.2L1634.2 1718.3L1632.4 1725.9L1631.1 1733.8L1630.4 1741.8L1630.1 1750L1630.4 1758.2L1631.1 1766.2L1632.4 1774.1L1634.2 1781.7L1636.4 1788.8L1639.1 1795.5L1642.2 1801.6L1645.6 1807.1L1649.4 1811.8L1653.4 1815.8L1657.7 1818.9L1662.1 1821.2L1666.7 1822.5L1671.3 1823L1698.3 1825.5"/>
<path d="M1671.3 1676A41.2 74 0 0 0 1671.3 1824L1698.3 1824A41.2 74 0 0 1 1698.3 1676Z" fill="url(#hk)" stroke="#1c1c1c" stroke-width="4" stroke-linejoin="round"/>
<ellipse class="pf" cx="1698.3" cy="1750" rx="41.2" ry="75.5"/>
<ellipse class="p" cx="1696.8" cy="1751" rx="16.5" ry="26.6"/>
<path class="m" d="M1696.3 1750L1758.3 1750"/>
<path class="pf" d="M1586 1726.5L1540 1726.5L1540 1773.5L1586 1773.5"/>
<ellipse class="pf" cx="1586" cy="1750" rx="14" ry="23.5"/>
<path class="m" d="M1590 1750L1630 1750"/>
<path class="pf" d="M1540 1723.4L1487 1723.4L1487 1776.6L1540 1776.6"/>
<path class="p" d="M1540 1723.4L1536.9 1724.3L1534 1727L1531.5 1731.2L1529.6 1736.7L1528.4 1743.1L1528 1750L1528.4 1756.9L1529.6 1763.3L1531.5 1768.8L1534 1773L1536.9 1775.7L1540 1776.6"/>
<path class="m" d="M1540 1776.6L1536.9 1775.7L1534 1773L1531.5 1768.8L1529.6 1763.3L1528.4 1756.9L1528 1750L1528.4 1743.1L1529.6 1736.7L1531.5 1731.2L1534 1727L1536.9 1724.3L1540 1723.4"/>
<path class="pf" d="M1487 1722L1446 1717L1446 1783L1487 1778"/>
<path class="p" d="M1487 1722L1483.9 1723L1481 1725.8L1478.5 1730.2L1476.6 1736L1475.4 1742.8L1475 1750L1475.4 1757.2L1476.6 1764L1478.5 1769.8L1481 1774.2L1483.9 1777L1487 1778"/>
<path class="pf" d="M1438 1702L1416 1702L1414 1702.6L1412.1 1704.3L1410.2 1707.2L1408.5 1711.2L1407 1716.1L1405.7 1721.8L1404.7 1728.2L1403.9 1735.2L1403.5 1742.5L1403.3 1750L1403.5 1757.5L1403.9 1764.8L1404.7 1771.8L1405.7 1778.2L1407 1783.9L1408.5 1788.8L1410.2 1792.8L1412.1 1795.7L1414 1797.4L1416 1798L1438 1798"/>
<ellipse class="pf" cx="1438" cy="1750" rx="12.7" ry="48"/>
<path class="m" d="M1441.8 1782.5L1440.4 1780.7L1439.2 1777.7L1438.1 1773.6L1437.2 1768.6L1436.5 1762.8L1436.1 1756.5L1436 1750L1436.1 1743.5L1436.5 1737.2L1437.2 1731.4L1438.1 1726.4L1439.2 1722.3L1440.4 1719.3L1441.8 1717.5"/>
<path class="pf" d="M1408 1712L1352 1712L1350 1712.7L1348.2 1714.9L1346.4 1718.4L1344.9 1723.1L1343.7 1728.9L1342.8 1735.5L1342.2 1742.6L1342 1750L1342.2 1757.4L1342.8 1764.5L1343.7 1771.1L1344.9 1776.9L1346.4 1781.6L1348.2 1785.1L1350 1787.3L1352 1788L1408 1788"/>
<path class="m" d="M1405.6 1722.5L1404.8 1727.5L1404.1 1732.8L1403.7 1738.4L1403.4 1744.2L1403.3 1750L1403.4 1755.8L1403.7 1761.6L1404.1 1767.2L1404.8 1772.5L1405.6 1777.5"/>
<path class="pf" d="M1344 1728L1322 1726L1322 1774L1344 1772"/>
<path class="m" d="M1344 1728L1341.8 1729.1L1339.9 1732.2L1338.3 1737.1L1337.3 1743.2L1337 1750L1337.3 1756.8L1338.3 1762.9L1339.9 1767.8L1341.8 1770.9L1344 1772"/>
<rect x="1240" y="1723.5" width="82" height="53" rx="9" ry="14" fill="#333" stroke="#1c1c1c" stroke-width="5"/>
<path d="M1247 1728l3 44M1253.5 1728l3 44M1260 1728l3 44M1266.5 1728l3 44M1273 1728l3 44M1279.5 1728l3 44M1286 1728l3 44M1292.5 1728l3 44M1299 1728l3 44M1305.5 1728l3 44M1312 1728l3 44M1318.5 1728l3 44" stroke="#888" stroke-width="1.6" fill="none"/>
<ellipse class="pf" cx="1288" cy="1842" rx="9" ry="15" transform="rotate(-37 1288 1842)"/>
<path class="p" d="M1279 1830L1297 1817"/>
<path class="p" d="M1297 1854L1315 1841"/>
<ellipse class="pf" cx="1306" cy="1829" rx="9" ry="15" transform="rotate(-37 1306 1829)"/>
<path class="pf" d="M1142 1662.4L1101 1662.4L1095.2 1663L1089.4 1664.6L1083.8 1667.3L1078.4 1671.1L1073.3 1675.8L1068.6 1681.5L1064.2 1688.1L1060.3 1695.4L1057 1703.4L1054.1 1712L1051.9 1721.1L1050.3 1730.5L1049.3 1740.2L1049 1750L1049.3 1759.8L1050.3 1769.5L1051.9 1778.9L1054.1 1788L1057 1796.6L1060.3 1804.6L1064.2 1811.9L1068.6 1818.5L1073.3 1824.2L1078.4 1828.9L1083.8 1832.7L1089.4 1835.4L1095.2 1837L1101 1837.6L1142 1837.6"/>
<ellipse class="pf" cx="1142" cy="1750" rx="50" ry="85.6" style="stroke-width:9"/>
<path class="m" d="M1124 1836.3L1116.9 1833.3L1110.2 1828.7L1103.9 1822.6L1098.2 1815.1L1093.2 1806.3L1088.9 1796.4L1085.5 1785.6L1083 1774.1L1081.5 1762.2L1081 1750L1081.5 1737.8L1083 1725.9L1085.5 1714.4L1088.9 1703.6L1093.2 1693.7L1098.2 1684.9L1103.9 1677.4L1110.2 1671.3L1116.9 1666.7L1124 1663.7"/>
<ellipse class="p" cx="1142" cy="1750" rx="22.1" ry="39.3" style="stroke-width:9"/>
<path class="m" d="M1142 1750L1200 1750"/>
<ellipse class="p" cx="964.4" cy="1750" rx="57" ry="95" style="stroke-width:11"/>
<ellipse class="p" cx="970" cy="1747" rx="43" ry="84"/>
<path class="m" d="M983.1 1663.4L989.1 1668.2L994.7 1674.3L999.8 1681.6L1004.3 1690.1L1008.2 1699.6L1011.3 1710L1013.7 1720.9L1015.2 1732.4L1016 1744.1L1015.8 1755.8L1014.8 1767.5L1013 1778.8L1010.4 1789.6L1007 1799.6L1002.9 1808.8L998.1 1816.9L992.9 1823.9L987.1 1829.6L981 1833.8L974.7 1836.6L968.2 1837.9L961.6 1837.7L955.2 1835.9L948.9 1832.6"/>
<path class="p" d="M941.5 1837.4L937.2 1834.3L933 1830.5L929 1826.2L925.3 1821.2L921.8 1815.8L918.6 1809.8L915.8 1803.3L913.2 1796.5L911.1 1789.3L909.3 1781.8" style="stroke-width:14"/>
<circle cx="935" cy="1802" r="9" class="h"/><circle cx="948" cy="1824" r="9" class="h"/>
<path class="ax" d="M932 1750H1004"/>
<path d="M783 1625.7C776.9 1627.4 756.9 1628.3 746.5 1635.9C736 1643.4 727 1658.3 720.2 1670.9C713.4 1683.6 708.9 1698.6 705.6 1711.8C702.4 1724.9 700.9 1737.1 700.7 1749.7C700.4 1762.4 701.9 1775.5 704.2 1787.7C706.4 1799.8 710.5 1812.7 714.4 1822.7C718.3 1832.7 722.2 1840.2 727.5 1847.5C732.9 1854.8 739.4 1862.1 746.5 1866.5C753.5 1870.9 762.5 1872.2 769.8 1873.8C777.1 1875.3 781 1877.5 790.3 1875.8C799.5 1874.1 815.6 1870.5 825.3 1863.6C835 1856.7 842.3 1846 848.6 1834.4C855 1822.7 860.1 1807.6 863.2 1793.5C866.4 1779.4 867.4 1763.3 867.6 1749.7C867.9 1736.1 866.6 1723.5 864.7 1711.8C862.7 1700.1 861.5 1690.4 855.9 1679.7C850.3 1669 839.2 1655.8 831.1 1647.6C823.1 1639.3 811.7 1633 807.8 1630.1Z" fill="#fff" stroke="none"/>
<path class="p" d="M783 1625.7C776.9 1627.4 756.9 1628.3 746.5 1635.9C736 1643.4 727 1658.3 720.2 1670.9C713.4 1683.6 708.9 1698.6 705.6 1711.8C702.4 1724.9 700.9 1737.1 700.7 1749.7C700.4 1762.4 701.9 1775.4 704.2 1787.7C706.4 1800 712.7 1817.6 714.4 1823.6"/>
<path class="pf" d="M714.4 1824.2L733.3 1824.2L749.4 1808.1L761.1 1816.9L756.7 1840.2L743.6 1849L730.4 1844.6L733.3 1824.2"/>
<path class="p" d="M728.4 1847.5C731.4 1850.7 739.6 1862.1 746.5 1866.5C753.4 1870.9 762.5 1872.2 769.8 1873.8C777.1 1875.3 781 1877.5 790.3 1875.8C799.5 1874.1 815.6 1870.5 825.3 1863.6C835 1856.7 842.3 1846 848.6 1834.4C855 1822.7 860.1 1807.6 863.2 1793.5C866.4 1779.4 867.4 1763.3 867.6 1749.7C867.9 1736.1 866.6 1723.5 864.7 1711.8C862.7 1700.1 857.4 1685 855.9 1679.7"/>
<path class="m" d="M743.6 1849L753.8 1860.6L769.8 1869.4"/>
<path class="p" d="M783 1625.7C787.1 1626.4 799.7 1626.4 807.8 1630.1C815.8 1633.7 827.2 1644.6 831.1 1647.6"/>
<path class="p" d="M831.1 1647.6L839.9 1659.2L831.1 1666.5L829.7 1682.6L837 1688.4L850.1 1685.5L851.6 1673.8L855.9 1679.7"/>
<path class="p" d="M783 1625.7C779.3 1627.9 769.1 1630.3 761.1 1638.8C753 1647.3 741.4 1663.1 734.8 1676.8C728.2 1690.4 724.3 1706.9 721.7 1720.5C719 1734.2 718.3 1745.3 718.8 1758.5C719.2 1771.6 722.2 1788.4 724.6 1799.3C727 1810.3 731.9 1820 733.3 1824.2"/>
<ellipse class="pf" cx="797.6" cy="1751.2" rx="36" ry="57"/>
<ellipse class="pf" cx="819.5" cy="1749.7" rx="32" ry="54"/>
<ellipse class="p" cx="819.5" cy="1749.7" rx="23" ry="41"/>
<ellipse class="m" cx="820.5" cy="1749.7" rx="17" ry="33"/>
<path class="p" d="M812 1783.6L808.5 1780.4L805.4 1775.9L802.9 1770.4L801 1764L799.8 1757L799.5 1749.7L799.8 1742.4L801 1735.5L802.9 1729.1L805.4 1723.5L808.5 1719.1L812 1715.9" style="stroke-width:8"/>
<path class="m" d="M819.5 1750L900 1750"/>
<path class="pf" d="M561.8 1614.3L543.8 1614.3L534.8 1615.1L526.1 1617.3L517.6 1621.1L509.4 1626.3L501.6 1632.9L494.2 1640.8L487.4 1650L481.2 1660.2L475.7 1671.5L471 1683.6L467.1 1696.5L464.1 1710L461.9 1723.9L460.7 1738.2L460.4 1752.5L461 1766.9L462.6 1781L465.1 1794.8L468.4 1808.1L472.6 1820.8L477.6 1832.6L483.3 1843.5L489.7 1853.4L496.7 1862.1L504.3 1869.6L512.2 1875.7L520.6 1880.4L529.2 1883.6"/>
<path class="pf" d="M556.8 1614.3L564.1 1614.8L571.2 1616.4L578.3 1618.9L585.3 1622.5L592 1627L598.4 1632.5L604.5 1638.8L610.3 1646L615.6 1654L620.5 1662.8L625 1672.2L628.9 1682.2L632.2 1692.7L635 1703.6L637.2 1714.9L638.7 1726.4L639.7 1738.2L640 1750L639.7 1761.8L638.7 1773.6L637.2 1785.1L635 1796.4L632.2 1807.3L628.9 1817.8L625 1827.8L620.5 1837.2L615.6 1846L610.3 1854L604.5 1861.2L598.4 1867.5L592 1873L585.3 1877.5L578.3 1881.1L571.2 1883.6L564.1 1885.2L556.8 1885.7"/>
<path class="p" d="M559.4 1617.1L565.7 1618L572 1619.8L578.1 1622.6L584.1 1626.3L589.9 1630.9L595.5 1636.4L600.8 1642.7L605.7 1649.8L610.3 1657.6L614.5 1666.1L618.3 1675.2L621.7 1684.8L624.5 1695L626.9 1705.5L628.8 1716.3L630.1 1727.4L630.9 1738.7L631.2 1750L630.9 1761.3L630.1 1772.6L628.8 1783.7L626.9 1794.5L624.5 1805L621.7 1815.2L618.3 1824.8L614.5 1833.9L610.3 1842.4L605.7 1850.2L600.8 1857.3L595.5 1863.6L589.9 1869.1L584.1 1873.7L578.1 1877.4L572 1880.2L565.7 1882L559.4 1882.9"/>
<path class="p" d="M543.8 1614.3L566.8 1614.3"/>
<path class="p" d="M556.8 1616L550.8 1616.8L545 1619.3L539.2 1623.3L533.7 1628.9L528.5 1636L523.6 1644.4L519.1 1654.2L515 1665.1L511.5 1677L508.5 1689.9L506.2 1703.4L504.4 1717.6L503.3 1732.1L502.8 1746.9L503 1761.7L503.9 1776.3L505.3 1790.7L507.5 1804.5L510.2 1817.7L513.5 1830L517.3 1841.4L521.6 1851.6L526.3 1860.7L531.4 1868.3"/>
<path class="p" d="M556.8 1616L561.9 1617.1L567 1620.6L571.9 1626.2L576.5 1634L580.8 1643.7L584.7 1655.2L588.1 1668.4L590.9 1683L593.2 1698.7L594.9 1715.3L595.9 1732.5L596.2 1750L595.9 1767.5L594.9 1784.7L593.2 1801.3L590.9 1817L588.1 1831.6L584.7 1844.8L580.8 1856.3L576.5 1866L571.9 1873.8L567 1879.4L561.9 1882.9L556.8 1884"/>
<path class="p" d="M483 1834L518 1833L516 1823"/>
<path class="p" d="M495 1855L533 1856L548 1875"/>
<path class="m" d="M500 1866L530 1866L545 1882"/>
<path class="p" d="M529.2 1883.6L522.8 1881.4L516.5 1878.3L510.4 1874.4L504.5 1869.8"/>
<path class="p" d="M492.4 1856.9L498.9 1864.4L505.8 1870.9L513.1 1876.3L520.7 1880.4L528.4 1883.4L536.3 1885.2L556.8 1885.7"/>
<ellipse class="p" cx="540.7" cy="1750" rx="24" ry="37"/>
<path class="m" d="M551 1750L600 1750"/>
<path class="pf" d="M322.7 1629.4L294.7 1631L287.2 1631.7L279.7 1634L272.5 1637.7L265.5 1642.8L258.9 1649.2L252.7 1657L247.1 1665.9L242.1 1675.8L237.7 1686.7L234.1 1698.4L231.2 1710.7L229.1 1723.5L227.8 1736.7L227.4 1750L227.8 1763.3L229.1 1776.5L231.2 1789.3L234.1 1801.6L237.7 1813.3L242.1 1824.2L247.1 1834.1L252.7 1843L258.9 1850.8L265.5 1857.2L272.5 1862.3L279.7 1866L287.2 1868.3L294.7 1869L322.7 1870.6"/>
<ellipse class="pf" cx="322.7" cy="1750" rx="67.3" ry="120.6"/>
<ellipse class="p" cx="320" cy="1750" rx="41" ry="71" style="stroke-width:8"/>
<ellipse class="p" cx="320" cy="1750" rx="15.2" ry="27.3"/>
<path class="m" d="M321 1750L420 1750"/>
<path class="pf" d="M170 1706L136 1705L131.9 1706.6L128 1708.3L124.2 1711L120.7 1714.8L117.6 1719.5L115 1725L112.8 1731.1L111.3 1737.8L110.3 1744.8L110 1752L110.3 1759.2L111.3 1766.2L112.8 1772.9L115 1779L117.6 1784.5L120.7 1789.2L124.2 1793L128 1795.7L131.9 1797.4L136 1798L170 1796" style="stroke-width:8"/>
<ellipse class="pf" cx="171" cy="1750" rx="22" ry="43" style="stroke-width:9"/>
<ellipse class="p" cx="171.5" cy="1750" rx="13" ry="31" style="stroke-width:6"/>
<ellipse class="p" cx="172.5" cy="1750" rx="6" ry="20" style="stroke-width:5"/>
<path class="p" d="M145 1716L145 1763L122 1763" style="stroke-width:6"/>
<path class="p" d="M125.5 1770L137 1793" style="stroke-width:6"/>
<path class="p" d="M145 1763L152 1788" style="stroke-width:6"/>
<path class="p" d="M196 1750L228 1750"/>
<!-- p_mid -->
<path class="ax" d="M610 2569.3H2120"/>
<path class="pf" d="M2270.8 2305L2280.7 2308.1L2290.4 2312.3L2299.8 2317.5L2308.9 2323.8L2317.6 2331L2326 2339.1L2334 2348.1L2341.5 2357.9L2348.5 2368.5L2355.1 2379.7L2361.1 2391.6L2366.7 2404L2379 2382.6L2384.7 2396.9L2389.9 2411.7L2394.4 2427L2398.3 2442.5L2401.5 2458.4L2404.1 2474.4L2406 2490.5L2407.4 2506.6L2408 2522.7L2408.1 2538.7L2407.5 2554.5L2406.4 2570L2423.8 2570L2422 2587.2L2419.6 2603.9L2416.6 2620.2L2413 2636L2408.8 2651.1L2404.1 2665.6L2398.9 2679.4L2393.2 2692.4L2387.1 2704.6L2380.7 2716L2373.8 2726.5L2366.7 2736L2379 2757.4L2370.7 2767.3L2362.2 2776.2L2353.4 2784.1L2344.4 2790.8L2335.3 2796.4L2326 2800.9L2316.7 2804.2L2307.4 2806.5L2298.1 2807.7L2288.9 2807.8L2279.8 2806.8L2270.8 2804.8L2270.8 2835L2260.9 2831.9L2251.2 2827.7L2241.8 2822.5L2232.7 2816.2L2224 2809L2215.6 2800.9L2207.6 2791.9L2200.1 2782.1L2193.1 2771.5L2186.5 2760.3L2180.5 2748.4L2174.9 2736L2162.6 2757.4L2156.9 2743.1L2151.7 2728.3L2147.2 2713L2143.3 2697.5L2140.1 2681.6L2137.5 2665.6L2135.6 2649.5L2134.2 2633.4L2133.6 2617.3L2133.5 2601.3L2134.1 2585.5L2135.2 2570L2117.8 2570L2119.6 2552.8L2122 2536.1L2125 2519.8L2128.6 2504L2132.8 2488.9L2137.5 2474.4L2142.7 2460.6L2148.4 2447.6L2154.5 2435.4L2160.9 2424L2167.8 2413.5L2174.9 2404L2162.6 2382.6L2170.9 2372.7L2179.4 2363.8L2188.2 2355.9L2197.2 2349.2L2206.3 2343.6L2215.6 2339.1L2224.9 2335.8L2234.2 2333.5L2243.5 2332.3L2252.7 2332.2L2261.8 2333.2L2270.8 2335.2Z"/>
<ellipse class="p" cx="2270.4" cy="2569.3" rx="20" ry="35.5"/>
<path class="m" d="M2273 2568.3L2328.7 2568.3"/>
<path class="pf" d="M1833.3 2331.3L1841.6 2362.1L1848.6 2332.8L1854.8 2365L1863.7 2337.2L1867.8 2370.5L1878.4 2344.6L1880.3 2378.4L1892.5 2354.8L1892.3 2388.8L1905.9 2367.7L1903.5 2401.4L1918.4 2383.1L1913.8 2416.1L1929.8 2400.8L1923.1 2432.8L1940 2420.6L1931.3 2451.1L1948.9 2442.3L1938.3 2470.9L1956.3 2465.6L1943.9 2492L1962.1 2490.2L1948.2 2514L1966.4 2515.8L1950.9 2536.7L1968.9 2542L1952.3 2559.8L1969.8 2568.6L1952.1 2583L1968.9 2595.2L1950.4 2606L1966.4 2621.4L1947.3 2628.6L1962.1 2647L1942.7 2650.4L1956.3 2671.6L1936.7 2671.2L1948.9 2694.9L1929.5 2690.6L1940 2716.6L1921 2708.6L1929.8 2736.4L1911.4 2724.8L1918.4 2754.1L1900.9 2739L1905.9 2769.5L1889.5 2751.1L1892.5 2782.4L1877.4 2760.9L1878.4 2792.6L1864.7 2768.3L1863.7 2800L1851.7 2773.1L1848.6 2804.4L1838.4 2775.4L1833.3 2805.9L1825 2775.1L1818 2804.4L1811.8 2772.2L1802.9 2800L1798.8 2766.7L1788.2 2792.6L1786.3 2758.8L1774.1 2782.4L1774.3 2748.4L1760.7 2769.5L1763.1 2735.8L1748.2 2754.1L1752.8 2721.1L1736.8 2736.4L1743.5 2704.4L1726.6 2716.6L1735.3 2686.1L1717.7 2694.9L1728.3 2666.3L1710.3 2671.6L1722.7 2645.2L1704.5 2647L1718.4 2623.2L1700.2 2621.4L1715.7 2600.5L1697.7 2595.2L1714.3 2577.4L1696.8 2568.6L1714.5 2554.2L1697.7 2542L1716.2 2531.2L1700.2 2515.8L1719.3 2508.6L1704.5 2490.2L1723.9 2486.8L1710.3 2465.6L1729.9 2466L1717.7 2442.3L1737.1 2446.6L1726.6 2420.6L1745.6 2428.6L1736.8 2400.8L1755.2 2412.4L1748.2 2383.1L1765.7 2398.2L1760.7 2367.7L1777.1 2386.1L1774.1 2354.8L1789.2 2376.3L1788.2 2344.6L1801.9 2368.9L1802.9 2337.2L1814.9 2364.1L1818 2332.8L1828.2 2361.8Z"/>
<ellipse class="p" cx="1833.3" cy="2569.3" rx="20" ry="35.8"/>
<path class="ax" d="M1836 2569.3H1990"/>
<path class="pf" d="M1371.9 2396.2L1400.4 2441.9Q1429.9 2418.3 1463.2 2441.9L1488.9 2396.2L1532.7 2468.5L1506.1 2512.3Q1524 2569.9 1506.1 2625.6L1532.7 2687.4L1488.9 2743.6L1463.2 2695Q1429.9 2722.5 1400.4 2695L1371.9 2743.6L1329 2687.4L1359.5 2626.5Q1339.3 2569.4 1359.5 2512.3L1329 2468.5Z" style="stroke-width:6"/>
<ellipse class="p" cx="1432.4" cy="2569.3" rx="21.4" ry="35.7" style="stroke-width:6"/>
<path class="ax" d="M1434 2569.3H1530"/>
<ellipse class="pf" cx="1122" cy="2570" rx="23" ry="41" style="stroke-width:7"/>
<path class="p" d="M1125.2 2612.4L1121 2613L1116.8 2612.4L1112.8 2610.5L1109 2607.4L1105.6 2603.2L1102.6 2598L1100.2 2592L1098.4 2585.4L1097.4 2578.3L1097 2571L1097.4 2563.7L1098.4 2556.6" style="stroke-width:10"/>
<path class="ax" d="M1110 2569.3H1160"/>
<path class="pf" d="M1020.5 2496.8L993.5 2496.8L989.1 2497.3L984.7 2498.6L980.4 2500.9L976.3 2504L972.4 2507.9L968.7 2512.6L965.4 2518L962.5 2524.1L959.9 2530.7L957.7 2537.8L956 2545.4L954.8 2553.2L954 2561.2L953.8 2569.3L954 2577.4L954.8 2585.4L956 2593.2L957.7 2600.8L959.9 2607.9L962.5 2614.5L965.4 2620.6L968.7 2626L972.4 2630.7L976.3 2634.6L980.4 2637.7L984.7 2640L989.1 2641.3L993.5 2641.8L1020.5 2641.8"/>
<ellipse class="pf" cx="1020.5" cy="2569.3" rx="39.7" ry="72.5"/>
<ellipse class="p" cx="1017" cy="2569.3" rx="21" ry="36.5"/>
<ellipse class="m" cx="1015" cy="2569.3" rx="12.5" ry="28"/>
<path class="m" d="M1015 2541.3L1017 2597.3"/>
<path class="m" d="M1008 2569.3L1030 2569.3"/>
<ellipse cx="993.5" cy="2529" rx="4.5" ry="7" class="h"/>
<ellipse cx="993.5" cy="2608" rx="4.5" ry="7" class="h"/>
<ellipse cx="1047" cy="2568.5" rx="4.5" ry="7" class="h"/>
<path class="pf" d="M887.2 2525.7L869 2525.7L865.9 2526.1L862.8 2527.2L859.9 2529L857.1 2531.5L854.5 2534.7L852.2 2538.5L850.1 2542.8L848.4 2547.5L847 2552.6L846 2558L845.4 2563.6L845.2 2569.3L845.4 2575L846 2580.6L847 2586L848.4 2591.1L850.1 2595.8L852.2 2600.1L854.5 2603.9L857.1 2607.1L859.9 2609.6L862.8 2611.4L865.9 2612.5L869 2612.9L887.2 2612.9"/>
<ellipse class="pf" cx="887.2" cy="2569.3" rx="23.8" ry="43.6" style="stroke-width:6"/>
<ellipse class="p" cx="888.2" cy="2569.3" rx="14" ry="25" style="stroke-width:5"/>
<ellipse class="p" cx="888.2" cy="2569.3" rx="6.5" ry="11" style="stroke-width:4"/>
<path class="m" d="M889.2 2569.3L927.2 2569.3"/>
<path class="pf" d="M795 2551L812 2551L812 2583L795 2583"/>
<ellipse class="pf" cx="812" cy="2567" rx="5" ry="16"/>
<rect x="756" y="2545" width="40" height="50" rx="12" ry="20" class="h" style="fill:#2e2e2e"/>
<path d="M761 2549l4 42M767 2549l4 42M773 2549l4 42M779 2549l4 42M785 2549l4 42M791 2549l4 42" stroke="#8a8a8a" stroke-width="1.6" fill="none"/>
<ellipse class="pf" cx="590.8" cy="2572" rx="115.7" ry="201.5" style="stroke-width:6"/>
<ellipse class="pf" cx="602.8" cy="2572" rx="115.7" ry="201.5" style="stroke-width:8"/>
<path class="p" d="M514.8 2714.5L511 2707.6L507.4 2700.4L504 2692.9L500.8 2685.2L497.8 2677.2L495.1 2668.9L492.6 2660.5L490.3 2651.8L488.2 2643L486.4 2634L484.9 2624.9L483.5 2615.6L482.5 2606.3L481.7 2596.8L481.1 2587.4L480.8 2577.9L480.8 2568.3L481 2558.8L481.5 2549.3L482.3 2539.9L483.3 2530.5L484.5 2521.3L486 2512.1L487.8 2503.1" style="stroke-width:9"/>
<path class="p" d="M526.1 2481.1L528.3 2478L530.6 2475L532.9 2472.3L535.3 2469.7L537.8 2467.3L540.3 2465.1L542.9 2463L545.6 2461.2L548.2 2459.6L551 2458.2L553.7 2456.9L556.5 2455.9L559.3 2455.1L562.1 2454.5L564.9 2454.2L567.7 2454L570.6 2454.1L573.4 2454.3L576.2 2454.8L579 2455.5L581.8 2456.4L584.6 2457.5L587.3 2458.8L590 2460.3" style="stroke-width:6"/>
<path class="p" d="M604.4 2472.7L611.1 2481.4L617.2 2491.5L622.4 2502.9L626.8 2515.4L630.2 2528.7L632.7 2542.7L634.1 2557.1L634.5 2571.7L633.8 2586.3L632.1 2600.6L629.4 2614.4L625.7 2627.5L621 2639.7L615.6 2650.8L609.4 2660.6L602.5 2668.9L595.1 2675.6L587.2 2680.6L579.1 2683.9L570.8 2685.3L562.5 2684.9L554.2 2682.7L546.2 2678.6L538.5 2672.8" style="stroke-width:6"/>
<path class="p" d="M522.7 2652.9L521.7 2651.3L520.8 2649.6L519.8 2647.9L518.9 2646.1L518.1 2644.3L517.2 2642.5L516.4 2640.7L515.6 2638.8L514.8 2636.9L514 2635L513.3 2633L512.5 2631L511.8 2629L511.2 2627L510.5 2624.9L509.9 2622.8L509.3 2620.7L508.7 2618.6L508.1 2616.5L507.6 2614.3L507.1 2612.1L506.6 2609.9L506.2 2607.7L505.7 2605.5" style="stroke-width:6"/>
<path class="p" d="M503 2583.8L502.8 2580.1L502.6 2576.4L502.5 2572.7L502.5 2569L502.5 2565.3L502.7 2561.6L502.8 2557.9L503.1 2554.3L503.4 2550.6L503.8 2547L504.2 2543.3L504.7 2539.8L505.3 2536.2L506 2532.7L506.7 2529.2L507.5 2525.7L508.3 2522.3L509.2 2519L510.1 2515.7L511.2 2512.4L512.2 2509.2L513.4 2506.1L514.5 2503.1L515.8 2500.1" style="stroke-width:6"/>
<ellipse class="p" cx="601" cy="2569.7" rx="41.6" ry="72.3" style="stroke-width:6"/>
<ellipse class="p" cx="603.7" cy="2569.7" rx="17" ry="33" style="stroke-width:7"/>
<ellipse cx="578.4" cy="2530" rx="5.5" ry="7.5" class="h" style="fill:#2a2a2a"/>
<ellipse cx="579.3" cy="2609.5" rx="5.5" ry="7.5" class="h" style="fill:#2a2a2a"/>
<ellipse cx="633.5" cy="2567.9" rx="5.5" ry="7.5" class="h" style="fill:#2a2a2a"/>
<path class="ax" d="M604 2569.3H722"/>
<path class="p" d="M428 2608.5L478 2608.5"/>
<ellipse cx="419.7" cy="2607" rx="10" ry="14.6" class="h" style="fill:#2e2e2e"/>
<rect x="352" y="2599" width="50" height="19" rx="4" class="h" style="fill:#3a3a3a"/>
<ellipse cx="346" cy="2609" rx="10" ry="16" class="h" style="fill:#2e2e2e"/>
<!-- p_low -->
<path class="p" d="M1923.2 2842.2C1931.2 2842.4 1956.5 2840.9 1971 2843.3C1985.5 2845.7 1999.8 2852.5 2010 2856.6C2020.2 2860.7 2024.8 2862.7 2032.2 2867.7C2039.6 2872.7 2043.3 2876.4 2054.4 2886.6C2065.5 2896.8 2084 2914.4 2098.8 2928.8C2113.6 2943.2 2128.4 2958.4 2143.2 2973.2C2158 2988 2174.7 3004.6 2187.7 3017.6C2200.7 3030.6 2212.1 3042.1 2221 3051C2229.9 3059.9 2235.4 3064 2241 3071C2246.6 3078 2250.2 3084.9 2254.3 3093C2258.4 3101.1 2262.5 3110.5 2265.4 3119.8C2268.3 3129.1 2270.5 3138.1 2272 3148.7C2273.5 3159.3 2274.9 3172 2274.3 3183.3C2273.8 3194.6 2270.5 3206.6 2268.7 3216.6C2266.8 3226.6 2265.2 3234.4 2263.2 3243.3C2261.2 3252.2 2259.1 3261.5 2256.5 3270C2253.9 3278.5 2251.7 3287.8 2247.6 3294.3C2243.5 3300.8 2238.3 3305.5 2232 3308.8C2225.7 3312.1 2214.3 3313.2 2209.9 3314.3C2205.5 3315.4 2206.2 3315.2 2205.4 3315.4" style="stroke-width:9"/>
<path class="p" d="M1967.6 2870C1971.1 2869.6 1981.6 2867 1988.7 2867.7C1995.8 2868.4 2002.8 2871.2 2010 2874.4C2017.2 2877.6 2024.8 2881.2 2032.2 2886.6C2039.6 2892 2043.3 2895.9 2054.4 2906.6C2065.5 2917.3 2084 2936.2 2098.8 2951C2113.6 2965.8 2128.4 2980.6 2143.2 2995.4C2158 3010.2 2176.6 3028.8 2187.7 3039.9C2198.8 3051 2204.3 3055.7 2209.9 3062C2215.5 3068.3 2217.3 3069.8 2221 3077.6C2224.7 3085.4 2229.1 3098 2232 3108.7C2234.9 3119.4 2237.8 3129.6 2238.7 3142C2239.6 3154.4 2239.1 3170.9 2237.6 3183.3C2236.1 3195.7 2232.7 3205.5 2229.9 3216.6C2227.1 3227.7 2223.8 3238.9 2221 3250C2218.2 3261.1 2215.2 3273.9 2213.2 3283.2C2211.2 3292.4 2209.5 3301.8 2208.8 3305.5"/>
<path class="p" d="M1955.4 2853.3L1967.6 2870"/>
<path class="p" d="M1923.2 2842.2L1971 2843.3" style="stroke-width:9"/>
<path class="p" d="M1923.2 2842.2C1920 2846.4 1911.2 2858.4 1904.3 2867.7C1897.4 2876.9 1888.8 2888.2 1882 2897.7C1875.2 2907.1 1866.3 2919.9 1863.2 2924.4"/>
<path class="p" d="M1816.6 2995.4C1814.2 2999.5 1807.4 3009.9 1802 3019.9C1796.6 3029.9 1790.3 3042.8 1784.4 3055.4C1778.5 3068 1772.5 3081.7 1766.6 3095.4C1760.7 3109.1 1757.3 3113.7 1748.8 3137.6C1740.3 3161.5 1724 3207.1 1715.5 3238.8C1707 3270.5 1702 3298.1 1697.8 3327.7C1693.5 3357.3 1691.5 3387.8 1690 3416.5C1688.5 3445.2 1688.7 3480.2 1688.9 3500C1689.1 3519.8 1690.7 3529.6 1691 3535.5"/>
<path class="p" d="M1946.5 2853.3C1943.2 2857.8 1933.5 2870.8 1926.5 2880C1919.5 2889.2 1911.3 2899.6 1904.3 2908.8C1897.3 2918.1 1887.6 2931.1 1884.3 2935.5"/>
<path class="p" d="M1815.5 3033.2C1811.8 3041.3 1800.6 3065.7 1793.2 3082C1785.8 3098.3 1781.4 3104.9 1771 3131C1760.6 3157.1 1740.6 3206 1731 3238.8C1721.4 3271.6 1717.7 3298.1 1713.3 3327.7C1708.9 3357.3 1705.6 3389.9 1704.4 3416.5C1703.2 3443.1 1705.7 3475.2 1706 3487"/>
<path class="p" d="M1964.7 2869.7C1960.5 2874.7 1948.8 2887.9 1939.3 2899.8C1929.8 2911.7 1918.2 2926.2 1907.6 2941C1897 2955.8 1886.3 2972.1 1875.9 2988.6C1865.5 3005.1 1854 3023.4 1845 3040C1836 3056.6 1829.3 3071.7 1822 3088C1814.7 3104.3 1811.3 3112.5 1801 3137.6C1790.7 3162.7 1769.2 3207.1 1759.9 3238.8C1750.7 3270.5 1749.6 3298.1 1745.5 3327.7C1741.4 3357.3 1737.1 3389.9 1735.5 3416.5C1733.9 3443.1 1735.9 3475.2 1736 3487"/>
<path class="m" d="M1706 3487L1712 3492L1730 3486L1736 3487L1742 3497"/>
<path class="p" d="M1986.9 2879.2C1981.6 2885.8 1965.8 2904.8 1955.2 2918.8C1944.6 2932.8 1934.1 2947.6 1923.5 2963.2C1912.9 2978.8 1902.3 2995.5 1891.7 3012.4C1881.1 3029.3 1869.8 3048.5 1860 3064.8C1850.2 3081.1 1841.3 3095.8 1833 3110C1824.7 3124.2 1820.3 3128.5 1810 3150C1799.7 3171.5 1780.1 3209.2 1771 3238.8C1761.9 3268.4 1759.6 3298.1 1755.5 3327.7C1751.4 3357.3 1747.7 3387.8 1746.6 3416.5C1745.5 3445.2 1748.2 3482 1748.8 3500C1749.4 3518 1749.2 3512.9 1750 3524.4C1750.8 3535.9 1751.6 3554 1753.3 3568.8C1755 3583.6 1757.3 3598.4 1759.9 3613.2C1762.5 3628 1765.8 3643.6 1768.8 3657.7C1771.8 3671.8 1776.2 3690.9 1777.7 3697.6"/>
<path class="m" d="M2023.4 2895L1947.2 2990.2"/>
<path class="m" d="M1900 3035C1894.3 3042.2 1876.8 3063.5 1866 3078C1855.2 3092.5 1840.5 3114.7 1835.4 3122"/>
<path class="m" d="M1815.5 3170C1811.4 3181.5 1798 3212.5 1791 3238.8C1784 3265.1 1777.4 3298.1 1773.3 3327.7C1769.2 3357.3 1767.3 3387.8 1766.6 3416.5C1765.8 3445.2 1768.1 3482 1768.8 3500C1769.5 3518 1770.1 3513.7 1771 3524.4C1771.9 3535.1 1773.8 3557.7 1774.4 3564.4"/>
<path class="m" d="M1779.9 3608.8C1781.4 3616.2 1785.8 3639.9 1788.8 3653.2C1791.8 3666.5 1796.2 3682.8 1797.7 3688.7"/>
<path class="m" d="M1925.4 3026.5C1921.9 3033.9 1911.5 3055.4 1904.3 3071C1897.1 3086.6 1887.9 3106.6 1882 3119.8C1876.1 3133 1875 3133.9 1868.7 3150C1862.4 3166.1 1851 3196.3 1844.3 3216.6C1837.6 3236.9 1833.2 3255.3 1828.8 3272C1824.4 3288.7 1819.5 3309.2 1817.7 3316.6"/>
<path class="m" d="M1811 3374.3C1810.3 3383.2 1807.3 3408.3 1806.6 3427.6C1805.8 3446.9 1805.8 3473.9 1806.5 3490C1807.2 3506.1 1809.1 3509.4 1811 3524.4C1812.9 3539.4 1815.1 3561.5 1817.7 3580C1820.3 3598.5 1823.6 3618.8 1826.6 3635.5C1829.6 3652.2 1834 3672.6 1835.5 3680"/>
<path class="m" d="M2010 2908.8L2024.4 2895.5"/>
<path class="p" d="M2211 3082C2207.1 3085.7 2195.3 3096.5 2187.7 3104.3C2180.1 3112.1 2172.9 3120.6 2165.5 3128.7C2158.1 3136.8 2150.6 3143.9 2143.2 3153C2135.8 3162.1 2128.4 3172 2121 3183.3C2113.6 3194.6 2106.2 3207.3 2098.8 3221C2091.4 3234.7 2084 3249.2 2076.6 3265.5C2069.2 3281.8 2061.1 3301.1 2054.4 3318.8C2047.7 3336.6 2041.8 3353.9 2036.6 3372C2031.4 3390.1 2027 3409.1 2023.3 3427.6C2019.6 3446.1 2016.1 3470.2 2014.4 3483C2012.7 3495.8 2013.3 3493.4 2013.3 3504.4C2013.3 3515.4 2013.7 3535.9 2014.4 3548.8C2015.2 3561.8 2016.7 3571.4 2017.8 3582.1C2018.9 3592.8 2020.5 3608 2021 3613.2"/>
<path class="p" d="M1722.2 3721C1730.3 3720.8 1754 3721.1 1771 3719.8C1788 3718.5 1805.8 3718 1824.3 3713.2C1842.8 3708.4 1861.3 3699.2 1882 3691C1902.7 3682.8 1930.7 3671.3 1948.7 3664.3C1966.7 3657.3 1976.5 3653.6 1990 3648.8C2003.5 3644 2015.2 3642.8 2030 3635.4C2044.8 3628 2061.4 3615.8 2078.8 3604.3C2096.2 3592.8 2119.5 3574.7 2134.3 3566.6C2149.1 3558.5 2159.2 3559.2 2167.7 3555.5C2176.2 3551.8 2182.4 3546.2 2185.4 3544.4" style="stroke-width:9"/>
<path class="p" d="M1777.7 3698.7C1785.1 3698.1 1804.6 3699.3 1822 3695.4C1839.4 3691.5 1860.9 3682.8 1882 3675.4C1903.1 3668 1930.7 3657.7 1948.7 3651C1966.7 3644.3 1977.6 3640.6 1990 3635.4C2002.4 3630.2 2008.5 3628.5 2023.3 3620C2038.1 3611.5 2062.2 3595.2 2078.8 3584.4C2095.5 3573.7 2111.7 3562.9 2123.2 3555.5C2134.7 3548.1 2143.6 3542.6 2147.7 3540"/>
<path class="p" d="M1722.2 3721L1748.8 3711L1777.7 3698.7"/>
<path class="p" d="M2185.4 3383.2C2183.6 3390.6 2178 3412.8 2174.3 3427.6C2170.6 3442.4 2167.6 3453.3 2163.2 3472C2158.8 3490.7 2150.3 3528.7 2147.7 3540"/>
<path class="p" d="M2223.2 3378.7C2221.7 3385 2217.6 3402.8 2214.3 3416.5C2211 3430.2 2207.3 3441.4 2203.2 3460.9C2199.1 3480.4 2192.9 3519.4 2189.9 3533.3C2186.9 3547.2 2186.2 3542.6 2185.4 3544.4" style="stroke-width:9"/>
<path class="p" d="M2147.7 3540L2183.2 3543.3"/>
<path class="p" d="M2205.4 3309.9C2201.7 3308.1 2190.6 3302.9 2183.2 3298.8C2175.8 3294.7 2168.4 3288.1 2161 3285.5C2153.6 3282.9 2145.5 3281.7 2138.8 3283.2C2132.1 3284.7 2124.9 3289.1 2121 3294.3C2117.1 3299.5 2115.1 3307.6 2115.5 3314.3C2115.9 3321 2118.7 3328.8 2123.3 3334.3C2127.9 3339.9 2136.2 3343.2 2143.2 3347.6C2150.2 3352 2158.8 3356.9 2165.5 3361C2172.2 3365.1 2176.9 3369.8 2183.2 3372C2189.5 3374.2 2196.5 3373.6 2203.2 3374.3C2209.9 3375.1 2219.9 3376.1 2223.2 3376.5"/>
<path class="p" d="M2208.8 3314.3C2205.3 3315.1 2194.2 3316.2 2187.7 3318.8C2181.2 3321.4 2174.3 3325.5 2169.9 3329.9C2165.5 3334.3 2163 3341.7 2161 3345.4C2159 3349.1 2158.2 3350.9 2157.7 3352"/>
<path class="p" d="M2190 3376L2222 3377" style="stroke-width:8"/>
<ellipse class="h" cx="2171" cy="3276.6" rx="4.5" ry="8" transform="rotate(12 2171 3276.6)"/>
<ellipse class="h" cx="2197.7" cy="3289.9" rx="4.5" ry="8" transform="rotate(12 2197.7 3289.9)"/>
<ellipse class="h" cx="2145.5" cy="3366.5" rx="4.5" ry="8" transform="rotate(12 2145.5 3366.5)"/>
<ellipse class="h" cx="2173.2" cy="3378.7" rx="4.5" ry="8" transform="rotate(12 2173.2 3378.7)"/>
<circle cx="2251" cy="3379.8" r="10" class="h" style="fill:#2e2e2e"/>
<path class="m" d="M2223 3378L2243 3379"/>
<path class="m" d="M2057.5 2982C2053.3 2984.6 2039 2992.1 2032.2 2997.7C2025.4 3003.3 2020.6 3011 2016.7 3015.4C2012.8 3019.8 2012.3 3019.9 2008.7 3024.3C2005.1 3028.7 1997.5 3039.1 1995.3 3042"/>
<path class="m" d="M1995.3 3042L1987.3 3036.5L1990.9 3074L2019.8 3059.9L2012.2 3052"/>
<path class="m" d="M2012.2 3052C2013.3 3049.2 2015.9 3041.1 2019 3035C2022.1 3028.9 2027.2 3020.5 2030.9 3015.4C2034.6 3010.3 2036.6 3009.9 2041 3004.3C2045.4 2998.7 2054.8 2985.7 2057.5 2982"/>
<path class="pf" d="M1848.8 2928.8L1864.3 2933.3L1833.2 2988.8L1815.5 2984.3Z"/>
<path class="p" d="M1864.3 2933.3L1882 2936.6L1897.6 2960L1884.3 2975.4L1868.7 2953.2"/>
<path class="m" d="M1868.7 2953.2L1862 2944"/>
<path class="p" d="M1833.2 2988.8L1851 2993.2L1866.5 3015.4L1851 3039.8L1833.2 3044.3L1819.9 3028.7"/>
<path class="m" d="M1851 2993.2L1835.4 3019.9L1846 3038"/>
<path class="m" d="M1866.5 3015.4L1884.3 2975.4"/>
<path class="pf" d="M1686 3545Q1684 3540 1692 3539L1705.5 3536.6L1712.2 3590L1694 3597Q1688 3599 1688 3592Z"/>
<path class="p" d="M1711 3489L1722.2 3511L1742.2 3500"/>
<path class="p" d="M1722.2 3511L1724.4 3528.9L1748.8 3513.3"/>
<path class="m" d="M1705.5 3536.6L1724.4 3528.9"/>
<path class="p" d="M1713.3 3546.6L1715.5 3584.4L1748.8 3562.2"/>
<path class="p" d="M1717.7 3586.6L1726.6 3591L1748.8 3568.8"/>
<path class="p" d="M1696.6 3597.7C1697.9 3604 1701.6 3621.8 1704.4 3635.5C1707.2 3649.2 1710.3 3665.8 1713.3 3680C1716.3 3694.2 1720.7 3714.2 1722.2 3721"/>
<path class="p" d="M1726.6 3591C1728.1 3600.3 1731.8 3626.6 1735.5 3646.6C1739.2 3666.6 1746.6 3700.3 1748.8 3711"/>
<ellipse class="m" cx="1929.8" cy="2897.7" rx="6" ry="8.5" transform="rotate(-15 1929.8 2897.7)"/>
<circle cx="1929.8" cy="2897.7" r="2.5" class="d"/>
<ellipse class="m" cx="1822" cy="3043" rx="6" ry="8.5" transform="rotate(-15 1822 3043)"/>
<circle cx="1822" cy="3043" r="2.5" class="d"/>
<ellipse class="m" cx="1816" cy="3052" rx="6" ry="8.5" transform="rotate(-15 1816 3052)"/>
<circle cx="1816" cy="3052" r="2.5" class="d"/>
<ellipse class="m" cx="1797.7" cy="3104.3" rx="6" ry="8.5" transform="rotate(-15 1797.7 3104.3)"/>
<circle cx="1797.7" cy="3104.3" r="2.5" class="d"/>
<ellipse class="m" cx="1773.3" cy="3155" rx="6" ry="8.5" transform="rotate(-15 1773.3 3155)"/>
<circle cx="1773.3" cy="3155" r="2.5" class="d"/>
<ellipse class="m" cx="1753.3" cy="3216.6" rx="6" ry="8.5" transform="rotate(-15 1753.3 3216.6)"/>
<circle cx="1753.3" cy="3216.6" r="2.5" class="d"/>
<ellipse class="m" cx="1737.7" cy="3280" rx="6" ry="8.5" transform="rotate(-15 1737.7 3280)"/>
<circle cx="1737.7" cy="3280" r="2.5" class="d"/>
<ellipse class="m" cx="1728.8" cy="3354.3" rx="6" ry="8.5" transform="rotate(-15 1728.8 3354.3)"/>
<circle cx="1728.8" cy="3354.3" r="2.5" class="d"/>
<ellipse class="m" cx="1722.2" cy="3418.7" rx="6" ry="8.5" transform="rotate(-15 1722.2 3418.7)"/>
<circle cx="1722.2" cy="3418.7" r="2.5" class="d"/>
<ellipse class="m" cx="1722.2" cy="3479.8" rx="6" ry="8.5" transform="rotate(-15 1722.2 3479.8)"/>
<circle cx="1722.2" cy="3479.8" r="2.5" class="d"/>
<ellipse class="m" cx="1754.4" cy="3664.3" rx="6" ry="8.5" transform="rotate(-15 1754.4 3664.3)"/>
<circle cx="1754.4" cy="3664.3" r="2.5" class="d"/>
<path class="ax" style="stroke-dasharray:60 8 10 8" d="M2027.8 3637.7L1937.6 3800.9H1913"/>
<path class="m" d="M1800 3802L1895 3802"/>
<ellipse cx="1904.3" cy="3802" rx="11" ry="20" class="pf" style="stroke-width:6"/><ellipse cx="1904.3" cy="3797" rx="4.5" ry="8" class="h"/>
<ellipse cx="1852.1" cy="3802" rx="8" ry="13" class="h" style="fill:#2e2e2e"/>
<rect x="1790" y="3794.5" width="34" height="16" rx="5" class="h" style="fill:#333"/><ellipse cx="1781.6" cy="3804" rx="11" ry="14.5" class="h" style="fill:#2e2e2e"/>
<path class="p" d="M1217 2927.4C1215.8 2927.8 1215.7 2922.8 1210 2929.7C1204.3 2936.5 1193 2953.7 1182.7 2968.5C1172.5 2983.3 1159.9 3001.3 1148.5 3018.8C1137.1 3036.3 1124.3 3056.1 1114.2 3073.6C1104.1 3091.1 1097 3106.9 1088 3123.8C1079 3140.7 1069.2 3157.7 1060 3175C1050.8 3192.3 1041.7 3205.8 1033 3227.5C1024.3 3249.2 1014.9 3279.2 1007.8 3305C1000.7 3330.8 995.1 3356.6 990.4 3382.4C985.7 3408.2 982.2 3432.9 979.7 3460C977.2 3487.1 975.3 3515.7 975.5 3545C975.7 3574.3 978.6 3608.1 980.9 3636C983.2 3663.9 985.9 3690.1 989.5 3712.3C993.1 3734.5 999.1 3755 1002.8 3769.4C1006.4 3783.8 1010 3794 1011.4 3798.9" style="stroke-width:6"/>
<path class="m" d="M1219.3 2934.3C1214.7 2940.8 1202.2 2958.2 1191.9 2973C1181.6 2987.8 1168.8 3006.2 1157.6 3023.3C1146.4 3040.5 1134.4 3058.8 1124.5 3075.9C1114.6 3093 1106.8 3109.5 1098 3126C1089.2 3142.5 1080.4 3158.1 1071.5 3175C1062.6 3191.9 1053.3 3205.8 1044.6 3227.5C1035.9 3249.2 1026.3 3279.2 1019.4 3305C1012.5 3330.8 1007.5 3356.6 1003 3382.4C998.5 3408.2 994.8 3432.9 992.3 3460C989.8 3487.1 988 3515.7 988 3545C988 3574.3 990.2 3608.1 992.4 3636C994.5 3663.9 997.3 3690.1 1000.9 3712.3C1004.5 3734.5 1011 3755.5 1014.2 3769.4C1017.4 3783.3 1019 3791.6 1020 3796"/>
<path class="p" d="M1228.4 2938.8C1223.8 2945.7 1210.9 2965.2 1201 2980C1191.1 2994.8 1179.7 3011.5 1169 3027.9C1158.3 3044.3 1146.8 3061.5 1137 3078.2C1127.2 3094.9 1118.7 3111.9 1110 3128C1101.3 3144.1 1093.3 3158.4 1085 3175C1076.7 3191.6 1068.7 3205.8 1060 3227.5C1051.3 3249.2 1040.6 3279.2 1033 3305C1025.4 3330.8 1019.3 3356.6 1014.6 3382.4C1009.9 3408.2 1007 3432.9 1004.9 3460C1002.8 3487.1 1001.4 3518.8 1002 3545C1002.6 3571.2 1006.8 3595.5 1008.5 3617C1010.2 3638.5 1010.1 3655.1 1012.3 3674.2C1014.5 3693.2 1018.7 3715.4 1021.9 3731.3C1025.1 3747.2 1029.2 3759.9 1031.4 3769.4C1033.6 3778.9 1034.6 3785.2 1035.2 3788.4"/>
<path class="p" d="M1210 2929.7Q1214 2921 1222 2924Q1230 2928 1228.4 2938.8"/>
<path class="p" d="M1011.4 3798.9L1029.5 3793.2L1035.2 3788.4L1061.9 3784.6L1071.3 3777"/>
<path d="M1163.3 3073.6C1159.5 3078.9 1147.3 3094.6 1140.5 3105.6C1133.7 3116.6 1127.5 3129.2 1122.2 3139.8C1116.9 3150.5 1113 3154.9 1108.5 3169.5C1104 3184.1 1102.1 3204.9 1095 3227.5C1087.9 3250.1 1073.4 3279.2 1066 3305C1058.6 3330.8 1054.9 3356.6 1050.4 3382.4C1045.9 3408.2 1041.1 3434.2 1038.8 3460C1036.5 3485.8 1036.9 3517.9 1036.8 3537.4C1036.7 3556.9 1037.8 3563.7 1038 3577C1038.2 3590.3 1038 3610.3 1038 3617" fill="none" stroke="#2a2a2a" stroke-width="11" stroke-linejoin="round"/>
<path d="M1046.6 3676C1047.9 3684.6 1052.6 3715.4 1054.2 3727.5C1055.8 3739.6 1053.8 3739.9 1056 3748.5C1058.2 3757.1 1065.6 3773.9 1067.5 3779" fill="none" stroke="#2a2a2a" stroke-width="11"/>
<path class="p" d="M1228.4 2937.7L1259.3 2938.4L1260.4 2945.7L1242.1 2970.8"/>
<path class="p" d="M1233 2941L1219.3 2975.4"/>
<rect x="1222.3" y="2972.4" width="40.5" height="10.5" rx="5.2" class="pf" style="stroke-width:6.5;fill:#fff"/>
<rect x="1258.2" y="2970.7" width="22" height="14" rx="6" class="pf" style="stroke-width:6.5;fill:#fff"/>
<rect x="1127.5" y="3119.8" width="39.8" height="10.5" rx="5.2" class="pf" style="stroke-width:6.5;fill:#fff"/>
<rect x="1162.7" y="3118" width="21.6" height="14" rx="6" class="pf" style="stroke-width:6.5;fill:#fff"/>
<rect x="1101.5" y="3172.1" width="40.6" height="10.5" rx="5.2" class="pf" style="stroke-width:6.5;fill:#fff"/>
<rect x="1137.5" y="3170.3" width="22" height="14" rx="6" class="pf" style="stroke-width:6.5;fill:#fff"/>
<rect x="1078.6" y="3229.1" width="40.5" height="10.5" rx="5.2" class="pf" style="stroke-width:6.5;fill:#fff"/>
<rect x="1114.5" y="3227.3" width="22" height="14" rx="6" class="pf" style="stroke-width:6.5;fill:#fff"/>
<rect x="1058.2" y="3289.1" width="41.9" height="10.5" rx="5.2" class="pf" style="stroke-width:6.5;fill:#fff"/>
<rect x="1095.3" y="3287.3" width="22.7" height="14" rx="6" class="pf" style="stroke-width:6.5;fill:#fff"/>
<rect x="1042.7" y="3352.9" width="41.2" height="10.5" rx="5.2" class="pf" style="stroke-width:6.5;fill:#fff"/>
<rect x="1079.2" y="3351.2" width="22.4" height="14" rx="6" class="pf" style="stroke-width:6.5;fill:#fff"/>
<rect x="1030.2" y="3423.8" width="41.9" height="10.5" rx="5.2" class="pf" style="stroke-width:6.5;fill:#fff"/>
<rect x="1067.3" y="3422" width="22.7" height="14" rx="6" class="pf" style="stroke-width:6.5;fill:#fff"/>
<rect x="1022.4" y="3492.4" width="41.9" height="10.5" rx="5.2" class="pf" style="stroke-width:6.5;fill:#fff"/>
<rect x="1059.5" y="3490.7" width="22.8" height="14" rx="6" class="pf" style="stroke-width:6.5;fill:#fff"/>
<rect x="1020.8" y="3563.8" width="41.4" height="10.5" rx="5.2" class="pf" style="stroke-width:6.5;fill:#fff"/>
<rect x="1057.5" y="3562" width="22.5" height="14" rx="6" class="pf" style="stroke-width:6.5;fill:#fff"/>
<rect x="1039" y="3733.8" width="41.9" height="10.5" rx="5.2" class="pf" style="stroke-width:6.5;fill:#fff"/>
<rect x="1076.1" y="3732" width="22.7" height="14" rx="6" class="pf" style="stroke-width:6.5;fill:#fff"/>
<path class="pf" d="M1182.7 3012L1214.7 3013L1190.7 3057.6L1146.2 3066.7Z"/>
<path class="pf" d="M1214.7 3013L1249 3016.5L1219.3 3067.9L1190.7 3057.6Z"/>
<path class="p" d="M1141.6 3069L1219.3 3069" style="stroke-width:8"/>
<rect x="1189.6" y="2991.4" width="16" height="11.4" rx="4" class="pf"/>
<path class="p" d="M1182.7 3012L1197 2992"/>
<path class="pf" d="M1011.4 3619L1058 3624.7L1063.7 3674.2L1016.1 3674.2Z"/>
<path class="pf" d="M1058 3624.7L1087.5 3617.1L1093.2 3672.3L1063.7 3679Z"/>
<path class="p" d="M1011.4 3619L1086.6 3616.2" style="stroke-width:8"/>
<path class="p" d="M1286.7 3040.5L1306 3075.9L1269.5 3077Z"/>
<path class="p" d="M1286.7 3040.5L1251.3 3041.6L1233 3070.2L1218.1 3089.6L1219.3 3096.4L1258.1 3095.3L1269.5 3077"/>
<path class="p" d="M1233 3070.2L1258.1 3071.3L1258.1 3095.3"/>
<rect x="1235.3" y="3073.6" width="18.2" height="11.4" class="h"/>
<path class="p" d="M1219 3094L1258 3094" style="stroke-width:8"/>
<path class="p" d="M1258.1 3096.4L1281 3137.6" style="stroke-width:6"/>
<ellipse cx="1287.8" cy="3144.4" rx="12" ry="9" class="h" style="fill:#2e2e2e" transform="rotate(35 1287.8 3144.4)"/>
<path class="m" d="M1265 3120L1277 3113" style="stroke-width:5"/>
<path class="m" d="M1270 3130L1283 3122" style="stroke-width:5"/>
<ellipse class="pf" cx="767.2" cy="3621.6" rx="71" ry="119" style="stroke-width:8"/>
<ellipse class="pf" cx="772.2" cy="3621.6" rx="71" ry="119" style="stroke-width:8"/>
<path class="p" d="M744.6 3733.4L737.8 3728.7L731.4 3722.9L725.4 3716L719.8 3708.2L714.7 3699.4L710.2 3689.9L706.3 3679.6L703.1 3668.7L700.5 3657.4L698.7 3645.7L697.6 3633.7L697.2 3621.6L697.6 3609.5L698.7 3597.5L700.5 3585.8L703.1 3574.5L706.3 3563.6L710.2 3553.3L714.7 3543.8L719.8 3535L725.4 3527.2L731.4 3520.3L737.8 3514.5L744.6 3509.8" style="stroke-width:13"/>
<path class="p" d="M733.2 3566.6L734.5 3564.8L735.8 3563.1L737.2 3561.5L738.6 3560L740 3558.6L741.5 3557.3L743 3556.1L744.5 3555L746 3554L747.6 3553.1L749.1 3552.4L750.7 3551.7L752.3 3551.1L754 3550.7L755.6 3550.3L757.2 3550.1L758.9 3550L760.5 3550L762.1 3550.1L763.8 3550.4L765.4 3550.7L767 3551.2L768.6 3551.7L770.2 3552.4" style="stroke-width:5.5"/>
<path class="p" d="M780.1 3559.5L784.4 3564.5L788.4 3570.4L791.9 3577.2L794.8 3584.6L797.2 3592.6L799 3601.1L800.1 3609.9L800.6 3618.9L800.4 3628L799.6 3636.9L798.1 3645.5L796 3653.8L793.3 3661.5L790 3668.6L786.3 3674.9L782.1 3680.3L777.6 3684.8L772.8 3688.2L767.7 3690.6L762.6 3691.8L757.4 3691.9L752.2 3690.8L747.1 3688.6L742.3 3685.3" style="stroke-width:5.5"/>
<path class="p" d="M730.6 3671.2L730.1 3670.3L729.6 3669.3L729.1 3668.4L728.6 3667.4L728.1 3666.4L727.6 3665.4L727.2 3664.4L726.7 3663.4L726.3 3662.4L725.8 3661.3L725.4 3660.2L725 3659.1L724.6 3658.1L724.2 3656.9L723.9 3655.8L723.5 3654.7L723.2 3653.6L722.8 3652.4L722.5 3651.2L722.2 3650.1L721.9 3648.9L721.6 3647.7L721.3 3646.5L721.1 3645.3" style="stroke-width:5.5"/>
<path class="p" d="M719 3630.9L718.9 3629.7L718.8 3628.5L718.8 3627.3L718.7 3626.2L718.7 3625L718.6 3623.8L718.6 3622.6L718.6 3621.4L718.6 3620.2L718.6 3619L718.6 3617.9L718.7 3616.7L718.7 3615.5L718.8 3614.3L718.9 3613.1L718.9 3611.9L719 3610.8L719.1 3609.6L719.2 3608.4L719.4 3607.2L719.5 3606.1L719.7 3604.9L719.8 3603.8L720 3602.6" style="stroke-width:5.5"/>
<path class="p" d="M721.1 3596.7L721.2 3596L721.4 3595.3L721.6 3594.5L721.7 3593.8L721.9 3593.1L722.1 3592.4L722.3 3591.7L722.4 3591L722.6 3590.3L722.8 3589.6L723 3588.9L723.2 3588.2L723.4 3587.5L723.7 3586.8L723.9 3586.2L724.1 3585.5L724.3 3584.8L724.5 3584.2L724.8 3583.5L725 3582.9L725.3 3582.2L725.5 3581.6L725.8 3580.9L726 3580.3" style="stroke-width:5.5"/>
<ellipse class="p" cx="775.2" cy="3621" rx="22" ry="43.7" style="stroke-width:6.6"/>
<ellipse class="p" cx="774.6" cy="3619.2" rx="8.5" ry="15.7" style="stroke-width:6"/>
<!-- p_tools -->
<path d="M643.8 3001.1C646.9 3001.3 662.1 3000.7 666.7 3002.3C671.3 3003.8 675.1 3007.5 678.1 3012.5C681.2 3017.6 686.2 3031.1 689.5 3039.9C692.9 3048.8 701.4 3073.6 703.2 3078.8" stroke="#262626" fill="none" stroke-linecap="round" stroke-linejoin="round" stroke-width="11"/>
<path d="M611.9 3073.1C615.2 3073.1 631.8 3071.4 637 3073.1C642.2 3074.7 646.7 3079.4 650.7 3085.6C654.7 3091.9 661.5 3107.4 666.7 3119.9C671.9 3132.4 686.5 3171.4 689.5 3179.3" stroke="#262626" fill="none" stroke-linecap="round" stroke-linejoin="round" stroke-width="11"/>
<path d="M595.9 3268.4L641.6 3348.3" stroke="#262626" fill="none" stroke-linecap="round" stroke-linejoin="round" stroke-width="12"/>
<path d="M597.9 3272.4L636.6 3339.3" stroke="#fff" stroke-width="3" fill="none"/>
<ellipse class="pf" cx="592.5" cy="3261.5" rx="17" ry="9" transform="rotate(-30 592.5 3261.5)"/>
<ellipse class="pf" cx="590.2" cy="3256.9" rx="17" ry="9" transform="rotate(-30 590.2 3256.9)"/>
<path class="pf" d="M527.4 3202.1C528.1 3196 529.6 3188.4 534.2 3183.8C538.8 3179.3 547.5 3175.5 554.8 3174.7C562 3173.9 570.8 3175.1 577.6 3179.3C584.5 3183.5 591.3 3192.6 595.9 3199.8C600.4 3207.1 604.3 3215.1 605 3222.7C605.8 3230.3 603.1 3239.8 600.4 3245.5C597.8 3251.2 594.7 3255.4 589 3256.9C583.3 3258.5 573.8 3257.3 566.2 3254.7C558.6 3252 549.4 3246.7 543.3 3241C537.3 3235.2 532.3 3226.9 529.6 3220.4C527 3213.9 526.6 3208.2 527.4 3202.1Z" style="stroke-width:7"/>
<ellipse class="p" cx="554.8" cy="3193" rx="26" ry="14" transform="rotate(-25 554.8 3193)" style="stroke-width:5"/>
<path class="p" d="M547.9 3213.5L566.2 3247.8" style="stroke-width:6"/>
<path class="p" d="M559.3 3209L577.6 3243.2" style="stroke-width:6"/>
<path class="p" d="M570.8 3204.4L587.9 3237.5" style="stroke-width:6"/>
<path class="p" d="M579.9 3197.6L595.9 3225" style="stroke-width:6"/>
<path d="M534.2 3218.1L547.9 3243.2L566.2 3254.7" stroke="#262626" fill="none" stroke-linecap="round" stroke-linejoin="round" stroke-width="10"/>
<path d="M584.5 3186.1L600.4 3209L602.7 3234.1" stroke="#262626" fill="none" stroke-linecap="round" stroke-linejoin="round" stroke-width="10"/>
<path class="p" d="M438.3 3413.6L519.5 3548.1"/>
<path class="p" d="M478.9 3398.4L555 3527.8"/>
<ellipse class="pf" cx="537.3" cy="3538" rx="19" ry="13" transform="rotate(-25 537.3 3538)"/>
<path class="m" d="M525.8 3532.9L530.9 3543"/>
<path class="m" d="M536 3527.8L542.3 3540.5"/>
<path class="m" d="M546.1 3522.7L551.2 3532.9"/>
<ellipse class="pf" cx="454.8" cy="3394.6" rx="24" ry="21" transform="rotate(-20 454.8 3394.6)" style="stroke-width:9"/>
<path class="p" d="M443.4 3378.1L463.7 3413.6" style="stroke-width:5"/>
<path class="p" d="M463.7 3375.5L476.3 3403.5" style="stroke-width:5"/>
<ellipse class="h" cx="466.2" cy="3436.4" rx="4" ry="6"/>
<ellipse class="h" cx="509.3" cy="3512.6" rx="4" ry="6"/>
<path class="pf" d="M346.9 3497.4L357.1 3492.3L369.7 3502.4L407.8 3604L442.1 3659.8L433.2 3677.6L382.4 3804.5L369.7 3817.2L360.9 3809.5L293.6 3626.8L289.8 3616.6L303.8 3583.7Z"/>
<path class="p" d="M293.6 3624.3L360.9 3809.5L369.7 3817.2" style="stroke-width:9"/>
<path class="m" d="M303.8 3621.7L369.7 3796.9"/>
<path class="p" d="M346.9 3502.4C343.5 3510.5 335.1 3535 326.6 3550.7C318.1 3566.3 301.9 3584.9 296.1 3596.3C290.4 3607.8 293 3615.4 292.3 3619.2" style="stroke-width:8"/>
<path class="m" d="M357.1 3502.4C354.1 3510.9 346.5 3538.4 339.3 3553.2C332.1 3568 319.4 3582.8 313.9 3591.3C308.4 3599.7 307.6 3601.8 306.3 3604"/>
<path class="p" d="M358.3 3522.7C359.8 3530.4 362.3 3556.2 367.2 3568.4C372.1 3580.7 380.7 3590.4 387.5 3596.3C394.3 3602.3 404.4 3602.7 407.8 3604"/>
<path class="p" d="M410.4 3604L377.4 3667.4L355.8 3713.1" style="stroke-width:8"/>
<polygon points="397.7,3631.9 405.3,3659.8 390.1,3687.7 374.8,3677.6" fill="#2e2e2e"/>
<path class="p" d="M354.5 3573.5C356 3581.1 363 3601 363.4 3619.2C363.8 3637.4 358.1 3672.1 357.1 3682.6"/>
<path class="p" d="M313.9 3626.8C318.1 3631.9 332.9 3645.8 339.3 3657.3C345.6 3668.7 349 3682.2 352 3695.3C354.9 3708.4 356.2 3729.2 357.1 3735.9"/>
<path class="m" d="M355.8 3713.1L362.1 3776.5L371 3796.9"/>
</svg>
</body></html>
